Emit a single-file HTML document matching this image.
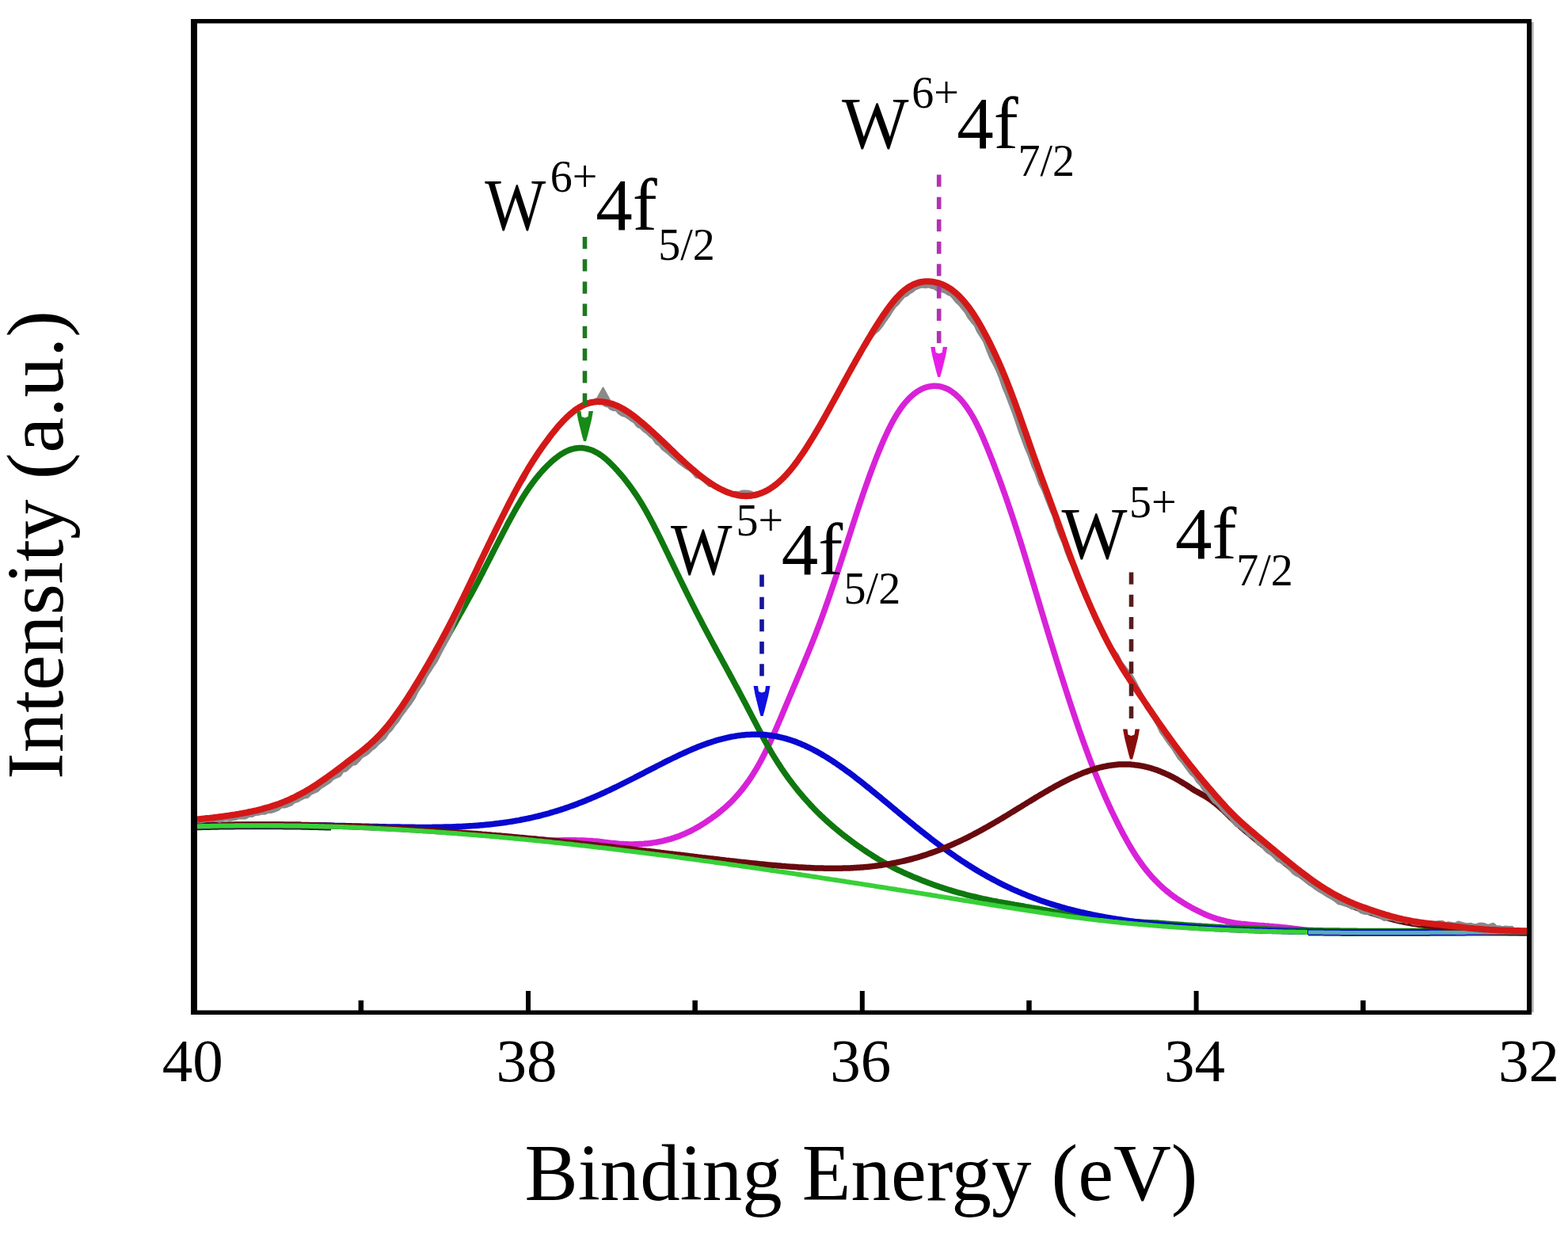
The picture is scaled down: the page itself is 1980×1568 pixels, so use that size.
<!DOCTYPE html>
<html><head><meta charset="utf-8"><title>W 4f XPS spectrum</title>
<style>html,body{margin:0;padding:0;background:#fff;overflow:hidden;width:1980px;height:1568px;} svg{display:block}</style></head>
<body>
<svg width="1980" height="1568" viewBox="0 0 1980 1568" font-family='"Liberation Serif", "Times New Roman", serif'>
<rect width="1980" height="1568" fill="#fff"/>
<g fill="none" stroke-linejoin="round" stroke-linecap="butt">
<path d="M249,1043.3 L251,1043.3 L253,1043.2 L255,1043.1 L257,1043.1 L259,1043.0 L261,1043.0 L263,1042.9 L265,1042.9 L267,1042.8 L269,1042.8 L271,1042.8 L273,1042.7 L275,1042.7 L277,1042.6 L279,1042.6 L281,1042.6 L283,1042.5 L285,1042.5 L287,1042.5 L289,1042.4 L291,1042.4 L293,1042.4 L295,1042.4 L297,1042.3 L299,1042.3 L301,1042.3 L303,1042.3 L305,1042.3 L307,1042.3 L309,1042.2 L311,1042.2 L313,1042.2 L315,1042.2 L317,1042.2 L319,1042.2 L321,1042.2 L323,1042.2 L325,1042.2 L327,1042.2 L329,1042.2 L331,1042.2 L333,1042.2 L335,1042.2 L337,1042.2 L339,1042.2 L341,1042.2 L343,1042.2 L345,1042.2 L347,1042.2 L349,1042.3 L351,1042.3 L353,1042.3 L355,1042.3 L357,1042.3 L359,1042.4 L361,1042.4 L363,1042.4 L365,1042.4 L367,1042.5 L369,1042.5 L371,1042.5 L373,1042.5 L375,1042.6 L377,1042.6 L379,1042.6 L381,1042.7 L383,1042.7 L385,1042.8 L387,1042.8 L389,1042.8 L391,1042.9 L393,1042.9 L395,1043.0 L397,1043.0 L399,1043.1 L401,1043.1 L403,1043.2 L405,1043.2 L407,1043.3 L409,1043.3 L411,1043.4 L413,1043.5 L415,1043.5 L417,1043.6 L418,1043.6" stroke="#0f3a0f" stroke-width="10"/>
<path d="M1652,1176.9 L1654,1176.9 L1656,1177.0 L1658,1177.0 L1660,1177.0 L1662,1177.1 L1664,1177.1 L1666,1177.1 L1668,1177.1 L1670,1177.1 L1672,1177.2 L1674,1177.2 L1676,1177.2 L1678,1177.2 L1680,1177.2 L1682,1177.3 L1684,1177.3 L1686,1177.3 L1688,1177.3 L1690,1177.3 L1692,1177.3 L1694,1177.4 L1696,1177.4 L1698,1177.4 L1700,1177.4 L1702,1177.4 L1704,1177.4 L1706,1177.4 L1708,1177.4 L1710,1177.4 L1712,1177.4 L1714,1177.5 L1716,1177.5 L1718,1177.5 L1720,1177.5 L1722,1177.5 L1724,1177.5 L1726,1177.5 L1728,1177.5 L1730,1177.5 L1732,1177.5 L1734,1177.5 L1736,1177.5 L1738,1177.5 L1740,1177.5 L1742,1177.5 L1744,1177.5 L1746,1177.5 L1748,1177.5 L1750,1177.5 L1752,1177.5 L1754,1177.5 L1756,1177.5 L1758,1177.5 L1760,1177.5 L1762,1177.5 L1764,1177.5 L1766,1177.5 L1768,1177.5 L1770,1177.5 L1772,1177.5 L1774,1177.5 L1776,1177.5 L1778,1177.4 L1780,1177.4 L1782,1177.4 L1784,1177.4 L1786,1177.4 L1788,1177.4 L1790,1177.4 L1792,1177.4 L1794,1177.4 L1796,1177.4 L1798,1177.4 L1800,1177.4 L1802,1177.4 L1804,1177.4 L1806,1177.3 L1808,1177.3 L1810,1177.3 L1812,1177.3 L1814,1177.3 L1816,1177.3 L1818,1177.3 L1820,1177.3 L1822,1177.3 L1824,1177.3 L1826,1177.3 L1828,1177.3 L1830,1177.2 L1832,1177.2 L1834,1177.2 L1836,1177.2 L1838,1177.2 L1840,1177.2 L1842,1177.2 L1844,1177.2 L1846,1177.2 L1848,1177.2 L1850,1177.2 L1852,1177.1 L1854,1177.1 L1856,1177.1 L1858,1177.1 L1860,1177.1 L1862,1177.1 L1864,1177.1 L1866,1177.1 L1868,1177.1 L1870,1177.1 L1872,1177.1 L1874,1177.1 L1876,1177.1 L1878,1177.1 L1880,1177.1 L1882,1177.0 L1884,1177.0 L1886,1177.0 L1888,1177.0 L1890,1177.0 L1892,1177.0 L1894,1177.0 L1896,1177.0 L1898,1177.0 L1900,1177.0 L1902,1177.0 L1904,1177.0 L1906,1177.0 L1908,1177.0 L1910,1177.0 L1912,1177.0 L1914,1177.0 L1916,1177.0 L1918,1177.0 L1920,1177.0 L1922,1177.0 L1924,1177.0 L1926,1177.0 L1928,1177.0" stroke="#0a4a48" stroke-width="9"/>
<path d="M249,1042.8 L251,1042.8 L253,1042.7 L255,1042.7 L257,1042.6 L259,1042.6 L261,1042.5 L263,1042.5 L265,1042.4 L267,1042.4 L269,1042.3 L271,1042.3 L273,1042.2 L275,1042.2 L277,1042.1 L279,1042.1 L281,1042.1 L283,1042.0 L285,1042.0 L287,1042.0 L289,1041.9 L291,1041.9 L293,1041.9 L295,1041.9 L297,1041.8 L299,1041.8 L301,1041.8 L303,1041.8 L305,1041.7 L307,1041.7 L309,1041.7 L311,1041.7 L313,1041.7 L315,1041.7 L317,1041.7 L319,1041.6 L321,1041.6 L323,1041.6 L325,1041.6 L327,1041.6 L329,1041.6 L331,1041.6 L333,1041.6 L335,1041.6 L337,1041.6 L339,1041.6 L341,1041.6 L343,1041.7 L345,1041.7 L347,1041.7 L349,1041.7 L351,1041.7 L353,1041.7 L355,1041.7 L357,1041.7 L359,1041.8 L361,1041.8 L363,1041.8 L365,1041.8 L367,1041.9 L369,1041.9 L371,1041.9 L373,1041.9 L375,1042.0 L377,1042.0 L379,1042.0 L381,1042.1 L383,1042.1 L385,1042.1 L387,1042.2 L389,1042.2 L391,1042.2 L393,1042.3 L395,1042.3 L397,1042.4 L399,1042.4 L401,1042.5 L403,1042.5 L405,1042.6 L407,1042.6 L409,1042.7 L411,1042.7 L413,1042.8 L415,1042.8 L417,1042.9 L419,1042.9 L421,1043.0 L423,1043.1 L425,1043.1 L427,1043.2 L429,1043.3 L431,1043.3 L433,1043.4 L435,1043.5 L437,1043.5 L439,1043.6 L441,1043.7 L443,1043.7 L445,1043.8 L447,1043.9 L449,1044.0 L451,1044.0 L453,1044.1 L455,1044.2 L457,1044.3 L459,1044.4 L461,1044.5 L463,1044.5 L465,1044.6 L467,1044.7 L469,1044.8 L471,1044.9 L473,1045.0 L475,1045.1 L477,1045.2 L479,1045.3 L481,1045.4 L483,1045.5 L485,1045.6 L487,1045.7 L489,1045.8 L491,1045.9 L493,1046.0 L495,1046.1 L497,1046.2 L499,1046.3 L501,1046.4 L503,1046.5 L505,1046.6 L507,1046.7 L509,1046.8 L511,1046.9 L513,1047.0 L515,1047.2 L517,1047.3 L519,1047.4 L521,1047.5 L523,1047.6 L525,1047.7 L527,1047.9 L529,1048.0 L531,1048.1 L533,1048.2 L535,1048.4 L537,1048.5 L539,1048.6 L541,1048.7 L543,1048.9 L545,1049.0 L547,1049.1 L549,1049.3 L551,1049.4 L553,1049.5 L555,1049.7 L557,1049.8 L559,1049.9 L561,1050.1 L563,1050.2 L565,1050.4 L567,1050.5 L569,1050.6 L571,1050.8 L573,1050.9 L575,1051.1 L577,1051.2 L579,1051.4 L581,1051.5 L583,1051.7 L585,1051.8 L587,1052.0 L589,1052.1 L591,1052.3 L593,1052.4 L595,1052.6 L597,1052.7 L599,1052.9 L601,1053.0 L603,1053.2 L605,1053.4 L607,1053.5 L609,1053.7 L611,1053.8 L613,1054.0 L615,1054.2 L617,1054.3 L619,1054.5 L621,1054.7 L623,1054.8 L625,1055.0 L627,1055.2 L629,1055.3 L631,1055.5 L633,1055.7 L635,1055.8 L637,1056.0 L639,1056.2 L641,1056.3 L643,1056.5 L645,1056.7 L647,1056.9 L649,1057.0 L651,1057.2 L653,1057.4 L655,1057.6 L657,1057.7 L659,1057.9 L661,1058.1 L663,1058.3 L665,1058.4 L667,1058.6 L669,1058.8 L671,1059.0 L673,1059.1 L675,1059.3 L677,1059.5 L679,1059.7 L681,1059.8 L683,1060.0 L685,1060.2 L687,1060.4 L689,1060.5 L691,1060.7 L693,1060.9 L695,1061.1 L697,1061.2 L699,1061.0 L701,1061.0 L703,1060.9 L705,1060.9 L707,1060.9 L709,1060.9 L711,1060.8 L713,1060.8 L715,1060.8 L717,1060.8 L719,1060.8 L721,1060.8 L723,1060.8 L725,1060.8 L727,1060.8 L729,1060.9 L731,1060.9 L733,1061.0 L735,1061.0 L737,1061.1 L739,1061.2 L741,1061.3 L743,1061.4 L745,1061.5 L747,1061.6 L749,1061.8 L751,1061.9 L753,1062.1 L755,1062.3 L757,1062.5 L759,1062.7 L761,1062.9 L763,1063.2 L765,1063.4 L767,1063.7 L769,1063.9 L771,1064.2 L773,1064.4 L775,1064.6 L777,1064.8 L779,1065.0 L781,1065.2 L783,1065.4 L785,1065.5 L787,1065.6 L789,1065.7 L791,1065.8 L793,1065.8 L795,1065.9 L797,1065.9 L799,1065.9 L801,1065.8 L803,1065.8 L805,1065.7 L807,1065.6 L809,1065.5 L811,1065.4 L813,1065.3 L815,1065.1 L817,1064.9 L819,1064.7 L821,1064.5 L823,1064.2 L825,1063.9 L827,1063.6 L829,1063.3 L831,1062.9 L833,1062.5 L835,1062.1 L837,1061.7 L839,1061.2 L841,1060.7 L843,1060.2 L845,1059.6 L847,1059.1 L849,1058.4 L851,1057.8 L853,1057.1 L855,1056.4 L857,1055.7 L859,1054.9 L861,1054.1 L863,1053.2 L865,1052.4 L867,1051.5 L869,1050.5 L871,1049.6 L873,1048.6 L875,1047.5 L877,1046.5 L879,1045.4 L881,1044.2 L883,1043.1 L885,1041.9 L887,1040.6 L889,1039.4 L891,1038.1 L893,1036.7 L895,1035.4 L897,1034.0 L899,1032.6 L901,1031.1 L903,1029.7 L905,1028.2 L907,1026.6 L909,1025.0 L911,1023.4 L913,1021.7 L915,1020.0 L917,1018.2 L919,1016.4 L921,1014.5 L923,1012.6 L925,1010.6 L927,1008.5 L929,1006.3 L931,1004.1 L933,1001.8 L935,999.4 L937,997.0 L939,994.4 L941,991.8 L943,989.1 L945,986.3 L947,983.3 L949,980.3 L951,977.2 L953,974.0 L955,970.7 L957,967.3 L959,963.7 L961,960.1 L963,956.3 L965,952.4 L967,948.4 L969,944.3 L971,940.1 L973,935.8 L975,931.4 L977,926.9 L979,922.3 L981,917.7 L983,913.1 L985,908.4 L987,903.7 L989,898.9 L991,894.2 L993,889.4 L995,884.7 L997,879.9 L999,875.2 L1001,870.4 L1003,865.7 L1005,861.0 L1007,856.2 L1009,851.5 L1011,846.8 L1013,842.0 L1015,837.2 L1017,832.4 L1019,827.6 L1021,822.8 L1023,817.9 L1025,812.9 L1027,807.9 L1029,802.8 L1031,797.7 L1033,792.4 L1035,787.1 L1037,781.7 L1039,776.3 L1041,770.7 L1043,765.1 L1045,759.4 L1047,753.6 L1049,747.8 L1051,741.9 L1053,736.0 L1055,730.0 L1057,724.0 L1059,717.9 L1061,711.8 L1063,705.7 L1065,699.5 L1067,693.4 L1069,687.2 L1071,681.0 L1073,674.8 L1075,668.6 L1077,662.4 L1079,656.3 L1081,650.2 L1083,644.1 L1085,638.0 L1087,632.1 L1089,626.2 L1091,620.4 L1093,614.6 L1095,609.0 L1097,603.4 L1099,597.9 L1101,592.5 L1103,587.2 L1105,582.0 L1107,576.9 L1109,571.9 L1111,567.0 L1113,562.2 L1115,557.6 L1117,553.1 L1119,548.7 L1121,544.4 L1123,540.3 L1125,536.4 L1127,532.6 L1129,529.0 L1131,525.5 L1133,522.3 L1135,519.2 L1137,516.2 L1139,513.4 L1141,510.8 L1143,508.4 L1145,506.1 L1147,503.9 L1149,501.9 L1151,500.0 L1153,498.3 L1155,496.7 L1157,495.2 L1159,493.9 L1161,492.7 L1163,491.6 L1165,490.7 L1167,489.8 L1169,489.1 L1171,488.5 L1173,488.1 L1175,487.7 L1177,487.5 L1179,487.3 L1181,487.3 L1183,487.4 L1185,487.6 L1187,487.9 L1189,488.4 L1191,489.0 L1193,489.7 L1195,490.5 L1197,491.4 L1199,492.5 L1201,493.8 L1203,495.2 L1205,496.7 L1207,498.4 L1209,500.2 L1211,502.1 L1213,504.3 L1215,506.5 L1217,509.0 L1219,511.6 L1221,514.3 L1223,517.3 L1225,520.4 L1227,523.7 L1229,527.2 L1231,530.8 L1233,534.7 L1235,538.7 L1237,542.9 L1239,547.2 L1241,551.8 L1243,556.4 L1245,561.2 L1247,566.1 L1249,571.1 L1251,576.1 L1253,581.2 L1255,586.4 L1257,591.7 L1259,597.0 L1261,602.4 L1263,607.9 L1265,613.4 L1267,619.0 L1269,624.6 L1271,630.3 L1273,636.1 L1275,642.0 L1277,647.9 L1279,653.9 L1281,660.0 L1283,666.2 L1285,672.4 L1287,678.7 L1289,685.0 L1291,691.4 L1293,697.9 L1295,704.4 L1297,711.0 L1299,717.5 L1301,724.2 L1303,730.8 L1305,737.4 L1307,744.1 L1309,750.8 L1311,757.4 L1313,764.1 L1315,770.8 L1317,777.4 L1319,784.1 L1321,790.7 L1323,797.3 L1325,803.9 L1327,810.4 L1329,816.9 L1331,823.4 L1333,829.9 L1335,836.3 L1337,842.7 L1339,849.1 L1341,855.4 L1343,861.7 L1345,867.9 L1347,874.1 L1349,880.3 L1351,886.4 L1353,892.5 L1355,898.5 L1357,904.5 L1359,910.4 L1361,916.3 L1363,922.1 L1365,927.8 L1367,933.5 L1369,939.0 L1371,944.6 L1373,950.0 L1375,955.4 L1377,960.7 L1379,965.9 L1381,971.0 L1383,976.1 L1385,981.0 L1387,985.9 L1389,990.7 L1391,995.5 L1393,1000.1 L1395,1004.7 L1397,1009.2 L1399,1013.6 L1401,1018.0 L1403,1022.3 L1405,1026.5 L1407,1030.6 L1409,1034.7 L1411,1038.7 L1413,1042.7 L1415,1046.6 L1417,1050.4 L1419,1054.2 L1421,1057.8 L1423,1061.5 L1425,1065.0 L1427,1068.5 L1429,1071.8 L1431,1075.1 L1433,1078.3 L1435,1081.3 L1437,1084.3 L1439,1087.2 L1441,1090.0 L1443,1092.8 L1445,1095.4 L1447,1098.0 L1449,1100.4 L1451,1102.8 L1453,1105.2 L1455,1107.4 L1457,1109.6 L1459,1111.7 L1461,1113.7 L1463,1115.7 L1465,1117.6 L1467,1119.5 L1469,1121.3 L1471,1123.0 L1473,1124.7 L1475,1126.3 L1477,1127.9 L1479,1129.4 L1481,1130.9 L1483,1132.4 L1485,1133.8 L1487,1135.2 L1489,1136.5 L1491,1137.8 L1493,1139.0 L1495,1140.3 L1497,1141.5 L1499,1142.7 L1501,1143.8 L1503,1144.9 L1505,1146.1 L1507,1147.1 L1509,1148.2 L1511,1149.2 L1513,1150.2 L1515,1151.2 L1517,1152.2 L1519,1153.1 L1521,1154.0 L1523,1154.9 L1525,1155.7 L1527,1156.5 L1529,1157.3 L1531,1158.0 L1533,1158.7 L1535,1159.4 L1537,1160.0 L1539,1160.6 L1541,1161.2 L1543,1161.7 L1545,1162.2 L1547,1162.7 L1549,1163.2 L1551,1163.6 L1553,1164.0 L1555,1164.4 L1557,1164.7 L1559,1165.1 L1561,1165.4 L1563,1165.7 L1565,1165.9 L1567,1166.2 L1569,1166.4 L1571,1166.6 L1573,1166.8 L1575,1167.0 L1577,1167.2 L1579,1167.4 L1581,1167.6 L1583,1167.7 L1585,1167.9 L1587,1168.1 L1589,1168.2 L1591,1168.4 L1593,1168.5 L1595,1168.6 L1597,1168.8 L1599,1168.9 L1601,1169.1 L1603,1169.3 L1605,1169.4 L1607,1169.6 L1609,1169.8 L1611,1169.9 L1613,1170.1 L1615,1170.3 L1617,1170.5 L1619,1170.7 L1621,1170.9 L1623,1171.1 L1625,1171.3 L1627,1171.6 L1629,1171.8 L1631,1172.0 L1633,1172.3 L1635,1172.5 L1637,1172.7 L1639,1173.0 L1641,1173.2 L1643,1173.5 L1645,1173.7 L1647,1174.0 L1649,1174.2 L1651,1174.5 L1653,1174.7 L1655,1175.0 L1657,1175.2 L1659,1175.5 L1661,1175.8 L1663,1176.0 L1665,1176.3 L1667,1176.5 L1669,1176.8 L1671,1176.8 L1673,1176.8 L1675,1176.9 L1677,1176.9 L1679,1177.0 L1681,1177.0 L1683,1177.0 L1685,1177.1 L1687,1177.1 L1689,1177.1 L1691,1177.1 L1693,1177.2 L1695,1177.2 L1697,1177.2 L1699,1177.2 L1701,1177.3 L1703,1177.3 L1705,1177.3 L1707,1177.3 L1709,1177.3 L1711,1177.3 L1713,1177.4 L1715,1177.4 L1717,1177.4 L1719,1177.4 L1721,1177.4 L1723,1177.4 L1725,1177.4 L1727,1177.4 L1729,1177.4 L1731,1177.4 L1733,1177.4 L1735,1177.5 L1737,1177.5 L1739,1177.5 L1741,1177.5 L1743,1177.5 L1745,1177.5 L1747,1177.5 L1749,1177.5 L1751,1177.5 L1753,1177.5 L1755,1177.5 L1757,1177.5 L1759,1177.5 L1761,1177.5 L1763,1177.5 L1765,1177.5 L1767,1177.5 L1769,1177.5 L1771,1177.5 L1773,1177.4 L1775,1177.4 L1777,1177.4 L1779,1177.4 L1781,1177.4 L1783,1177.4 L1785,1177.4 L1787,1177.4 L1789,1177.4 L1791,1177.4 L1793,1177.4 L1795,1177.4 L1797,1177.4 L1799,1177.4 L1801,1177.4 L1803,1177.4 L1805,1177.3 L1807,1177.3 L1809,1177.3 L1811,1177.3 L1813,1177.3 L1815,1177.3 L1817,1177.3 L1819,1177.3 L1821,1177.3 L1823,1177.3 L1825,1177.3 L1827,1177.3 L1829,1177.2 L1831,1177.2 L1833,1177.2 L1835,1177.2 L1837,1177.2 L1839,1177.2 L1841,1177.2 L1843,1177.2 L1845,1177.2 L1847,1177.2 L1849,1177.2 L1851,1177.2 L1853,1177.1 L1855,1177.1 L1857,1177.1 L1859,1177.1 L1861,1177.1 L1863,1177.1 L1865,1177.1 L1867,1177.1 L1869,1177.1 L1871,1177.1 L1873,1177.1 L1875,1177.1 L1877,1177.1 L1879,1177.1 L1881,1177.1 L1883,1177.0 L1885,1177.0 L1887,1177.0 L1889,1177.0 L1891,1177.0 L1893,1177.0 L1895,1177.0 L1897,1177.0 L1899,1177.0 L1901,1177.0 L1903,1177.0 L1905,1177.0 L1907,1177.0 L1909,1177.0 L1911,1177.0 L1913,1177.0 L1915,1177.0 L1917,1177.0 L1919,1177.0 L1921,1177.0 L1923,1177.0 L1925,1177.0 L1927,1177.0 L1928,1177.0" stroke="#d822d8" stroke-width="7.5"/>
<path d="M249,1035.8 L251,1035.7 L253,1035.6 L255,1035.4 L257,1035.3 L259,1035.1 L261,1034.9 L263,1034.8 L265,1034.6 L267,1034.4 L269,1034.2 L271,1034.0 L273,1033.8 L275,1033.5 L277,1033.3 L279,1033.0 L281,1032.8 L283,1032.5 L285,1032.3 L287,1032.0 L289,1031.7 L291,1031.4 L293,1031.1 L295,1030.8 L297,1030.5 L299,1030.2 L301,1029.9 L303,1029.5 L305,1029.2 L307,1028.8 L309,1028.4 L311,1028.1 L313,1027.7 L315,1027.3 L317,1026.8 L319,1026.4 L321,1026.0 L323,1025.5 L325,1025.1 L327,1024.6 L329,1024.1 L331,1023.6 L333,1023.0 L335,1022.5 L337,1021.9 L339,1021.3 L341,1020.7 L343,1020.1 L345,1019.5 L347,1018.8 L349,1018.1 L351,1017.4 L353,1016.7 L355,1016.0 L357,1015.2 L359,1014.4 L361,1013.6 L363,1012.7 L365,1011.9 L367,1011.0 L369,1010.1 L371,1009.1 L373,1008.2 L375,1007.2 L377,1006.2 L379,1005.1 L381,1004.1 L383,1003.0 L385,1001.9 L387,1000.8 L389,999.6 L391,998.4 L393,997.2 L395,996.0 L397,994.8 L399,993.5 L401,992.3 L403,991.0 L405,989.7 L407,988.4 L409,987.1 L411,985.7 L413,984.4 L415,983.0 L417,981.6 L419,980.2 L421,978.8 L423,977.4 L425,976.0 L427,974.6 L429,973.2 L431,971.7 L433,970.3 L435,968.8 L437,967.4 L439,965.9 L441,964.4 L443,962.9 L445,961.4 L447,959.9 L449,958.3 L451,956.8 L453,955.2 L455,953.6 L457,952.0 L459,950.3 L461,948.7 L463,947.0 L465,945.2 L467,943.4 L469,941.6 L471,939.8 L473,937.9 L475,935.9 L477,933.9 L479,931.9 L481,929.8 L483,927.6 L485,925.4 L487,923.2 L489,920.9 L491,918.5 L493,916.1 L495,913.6 L497,911.1 L499,908.6 L501,906.0 L503,903.3 L505,900.6 L507,897.8 L509,895.0 L511,892.2 L513,889.3 L515,886.4 L517,883.4 L519,880.4 L521,877.4 L523,874.3 L525,871.2 L527,868.0 L529,864.9 L531,861.7 L533,858.4 L535,855.2 L537,851.9 L539,848.6 L541,845.3 L543,841.9 L545,838.6 L547,835.2 L549,831.8 L551,828.3 L553,824.9 L555,821.4 L557,817.9 L559,814.4 L561,810.9 L563,807.4 L565,803.9 L567,800.3 L569,796.8 L571,793.2 L573,789.6 L575,786.1 L577,782.5 L579,778.9 L581,775.3 L583,771.8 L585,768.2 L587,764.6 L589,761.0 L591,757.3 L593,753.7 L595,750.1 L597,746.4 L599,742.7 L601,739.0 L603,735.2 L605,731.4 L607,727.6 L609,723.7 L611,719.8 L613,715.9 L615,712.0 L617,708.1 L619,704.2 L621,700.3 L623,696.3 L625,692.4 L627,688.5 L629,684.6 L631,680.7 L633,676.9 L635,673.0 L637,669.2 L639,665.4 L641,661.6 L643,657.9 L645,654.2 L647,650.6 L649,647.0 L651,643.4 L653,639.9 L655,636.5 L657,633.1 L659,629.8 L661,626.6 L663,623.4 L665,620.4 L667,617.4 L669,614.5 L671,611.7 L673,609.0 L675,606.4 L677,603.8 L679,601.3 L681,598.9 L683,596.6 L685,594.3 L687,592.2 L689,590.1 L691,588.0 L693,586.1 L695,584.2 L697,582.3 L699,580.6 L701,579.0 L703,577.4 L705,575.9 L707,574.5 L709,573.2 L711,572.0 L713,570.9 L715,569.8 L717,568.9 L719,568.1 L721,567.4 L723,566.8 L725,566.3 L727,566.0 L729,565.7 L731,565.5 L733,565.5 L735,565.6 L737,565.8 L739,566.1 L741,566.5 L743,567.0 L745,567.6 L747,568.3 L749,569.1 L751,570.1 L753,571.1 L755,572.2 L757,573.5 L759,574.8 L761,576.3 L763,577.9 L765,579.5 L767,581.3 L769,583.1 L771,585.1 L773,587.1 L775,589.1 L777,591.3 L779,593.4 L781,595.7 L783,598.0 L785,600.3 L787,602.7 L789,605.2 L791,607.8 L793,610.4 L795,613.1 L797,615.8 L799,618.6 L801,621.5 L803,624.4 L805,627.4 L807,630.5 L809,633.7 L811,637.0 L813,640.4 L815,643.8 L817,647.4 L819,651.0 L821,654.7 L823,658.5 L825,662.3 L827,666.2 L829,670.2 L831,674.1 L833,678.2 L835,682.2 L837,686.3 L839,690.4 L841,694.6 L843,698.7 L845,702.9 L847,707.0 L849,711.1 L851,715.3 L853,719.4 L855,723.6 L857,727.7 L859,731.8 L861,735.9 L863,740.0 L865,744.0 L867,748.1 L869,752.1 L871,756.1 L873,760.1 L875,764.1 L877,768.0 L879,772.0 L881,775.9 L883,779.8 L885,783.6 L887,787.5 L889,791.3 L891,795.0 L893,798.8 L895,802.6 L897,806.3 L899,810.0 L901,813.7 L903,817.4 L905,821.1 L907,824.7 L909,828.4 L911,832.0 L913,835.7 L915,839.4 L917,843.0 L919,846.7 L921,850.4 L923,854.1 L925,857.8 L927,861.5 L929,865.2 L931,868.9 L933,872.6 L935,876.4 L937,880.2 L939,884.0 L941,887.8 L943,891.6 L945,895.4 L947,899.2 L949,903.1 L951,906.9 L953,910.8 L955,914.6 L957,918.5 L959,922.3 L961,926.1 L963,929.9 L965,933.6 L967,937.3 L969,940.9 L971,944.4 L973,947.9 L975,951.3 L977,954.6 L979,957.8 L981,961.0 L983,964.2 L985,967.2 L987,970.3 L989,973.2 L991,976.1 L993,978.9 L995,981.7 L997,984.4 L999,987.1 L1001,989.7 L1003,992.3 L1005,994.8 L1007,997.3 L1009,999.8 L1011,1002.2 L1013,1004.5 L1015,1006.9 L1017,1009.1 L1019,1011.4 L1021,1013.6 L1023,1015.8 L1025,1017.9 L1027,1020.0 L1029,1022.1 L1031,1024.1 L1033,1026.1 L1035,1028.0 L1037,1030.0 L1039,1031.8 L1041,1033.7 L1043,1035.6 L1045,1037.4 L1047,1039.2 L1049,1040.9 L1051,1042.6 L1053,1044.4 L1055,1046.0 L1057,1047.7 L1059,1049.4 L1061,1051.0 L1063,1052.6 L1065,1054.2 L1067,1055.7 L1069,1057.3 L1071,1058.8 L1073,1060.3 L1075,1061.8 L1077,1063.3 L1079,1064.7 L1081,1066.2 L1083,1067.6 L1085,1069.0 L1087,1070.4 L1089,1071.8 L1091,1073.2 L1093,1074.5 L1095,1075.8 L1097,1077.1 L1099,1078.4 L1101,1079.7 L1103,1081.0 L1105,1082.2 L1107,1083.5 L1109,1084.7 L1111,1085.9 L1113,1087.0 L1115,1088.2 L1117,1089.3 L1119,1090.5 L1121,1091.6 L1123,1092.6 L1125,1093.7 L1127,1094.8 L1129,1095.8 L1131,1096.8 L1133,1097.8 L1135,1098.8 L1137,1099.7 L1139,1100.7 L1141,1101.6 L1143,1102.5 L1145,1103.4 L1147,1104.3 L1149,1105.1 L1151,1106.0 L1153,1106.9 L1155,1107.7 L1157,1108.5 L1159,1109.3 L1161,1110.1 L1163,1110.9 L1165,1111.7 L1167,1112.5 L1169,1113.3 L1171,1114.0 L1173,1114.8 L1175,1115.5 L1177,1116.3 L1179,1117.0 L1181,1117.7 L1183,1118.4 L1185,1119.1 L1187,1119.8 L1189,1120.4 L1191,1121.1 L1193,1121.7 L1195,1122.4 L1197,1123.0 L1199,1123.6 L1201,1124.2 L1203,1124.8 L1205,1125.4 L1207,1126.0 L1209,1126.6 L1211,1127.1 L1213,1127.7 L1215,1128.2 L1217,1128.7 L1219,1129.3 L1221,1129.8 L1223,1130.3 L1225,1130.8 L1227,1131.3 L1229,1131.8 L1231,1132.2 L1233,1132.7 L1235,1133.2 L1237,1133.6 L1239,1134.1 L1241,1134.6 L1243,1135.0 L1245,1135.4 L1247,1135.8 L1249,1136.3 L1251,1136.7 L1253,1137.1 L1255,1137.5 L1257,1137.8 L1259,1138.2 L1261,1138.6 L1263,1138.9 L1265,1139.3 L1267,1139.6 L1269,1140.0 L1271,1140.3 L1273,1140.7 L1275,1141.0 L1277,1141.4 L1279,1141.7 L1281,1142.1 L1283,1142.4 L1285,1142.8 L1287,1143.1 L1289,1143.5 L1291,1143.8 L1293,1144.2 L1295,1144.6 L1297,1144.9 L1299,1145.3 L1301,1145.6 L1303,1146.0 L1305,1146.3 L1307,1146.7 L1309,1147.0 L1311,1147.3 L1313,1147.7 L1315,1148.0 L1317,1148.4 L1319,1148.7 L1321,1149.1 L1323,1149.5 L1325,1149.8 L1327,1150.2 L1329,1150.5 L1331,1150.9 L1333,1151.3 L1335,1151.6 L1337,1152.0 L1339,1152.4 L1341,1152.8 L1343,1153.1 L1345,1153.5 L1347,1153.9 L1349,1154.2 L1351,1154.6 L1353,1154.9 L1355,1155.3 L1357,1155.6 L1359,1156.0 L1361,1156.3 L1363,1156.6 L1365,1156.9 L1367,1157.2 L1369,1157.5 L1371,1157.8 L1373,1158.1 L1375,1158.4 L1377,1158.7 L1379,1158.9 L1381,1159.2 L1383,1159.4 L1385,1159.7 L1387,1159.9 L1389,1160.2 L1391,1160.4 L1393,1160.6 L1395,1160.8 L1397,1161.0 L1399,1161.2 L1401,1161.4 L1403,1161.6 L1405,1161.8 L1407,1162.0 L1409,1162.2 L1411,1162.3 L1413,1162.5 L1415,1162.6 L1417,1162.8 L1419,1162.9 L1421,1163.1 L1423,1163.2 L1425,1163.3 L1427,1163.5 L1429,1163.6 L1431,1163.7 L1433,1163.8 L1435,1163.9 L1437,1164.0 L1439,1164.1 L1441,1164.2 L1443,1164.3 L1445,1164.4 L1447,1164.5 L1449,1164.6 L1451,1164.7 L1453,1164.8 L1455,1164.8 L1457,1164.9 L1459,1165.0 L1461,1165.0 L1463,1165.2 L1465,1165.4 L1467,1165.6 L1469,1165.7 L1471,1165.9 L1473,1166.1 L1475,1166.2 L1477,1166.4 L1479,1166.6 L1481,1166.7 L1483,1166.9 L1485,1167.0 L1487,1167.2 L1489,1167.3 L1491,1167.5 L1493,1167.6 L1495,1167.8 L1497,1167.9 L1499,1168.1 L1501,1168.2 L1503,1168.3 L1505,1168.5 L1507,1168.6 L1509,1168.7 L1511,1168.9 L1513,1169.0 L1515,1169.1 L1517,1169.2 L1519,1169.4 L1521,1169.5 L1523,1169.6 L1525,1169.7 L1527,1169.9 L1529,1170.0 L1531,1170.1 L1533,1170.2 L1535,1170.3 L1537,1170.4 L1539,1170.5 L1541,1170.6 L1543,1170.7 L1545,1170.9 L1547,1171.0 L1549,1171.1 L1551,1171.2 L1553,1171.3 L1555,1171.3 L1557,1171.4 L1559,1171.5 L1561,1171.6 L1563,1171.7 L1565,1171.8 L1567,1171.9 L1569,1172.0 L1571,1172.1 L1573,1172.2 L1575,1172.2 L1577,1172.3 L1579,1172.4 L1581,1172.5 L1583,1172.6 L1585,1172.6 L1587,1172.7 L1589,1172.8 L1591,1172.9 L1593,1172.9 L1595,1173.0 L1597,1173.1 L1599,1173.1 L1601,1173.2 L1603,1173.3 L1605,1173.3 L1607,1173.4 L1609,1173.5 L1611,1173.5 L1613,1173.6 L1615,1173.6 L1617,1173.7 L1619,1173.8 L1621,1173.8 L1623,1173.9 L1625,1173.9 L1627,1174.0 L1629,1174.0 L1631,1174.1 L1633,1174.1 L1635,1174.2 L1637,1174.2 L1639,1174.3 L1641,1174.3 L1643,1174.3 L1645,1174.4 L1647,1174.4 L1649,1174.5 L1651,1174.5 L1653,1174.6 L1655,1174.6 L1657,1174.6 L1659,1174.7 L1661,1174.7 L1663,1174.7 L1665,1174.8 L1667,1174.8 L1669,1174.8 L1671,1174.9 L1673,1174.9 L1675,1174.9 L1677,1175.0 L1679,1175.0 L1681,1175.0 L1683,1175.0 L1685,1175.1 L1687,1175.1 L1689,1175.1 L1691,1175.1 L1693,1175.2 L1695,1175.2 L1697,1175.2 L1699,1175.2 L1701,1175.2 L1703,1175.3 L1705,1175.3 L1707,1175.3 L1709,1175.3 L1711,1175.3 L1713,1175.3 L1715,1175.4 L1717,1175.4 L1719,1175.4 L1721,1175.4 L1723,1175.4 L1725,1175.4 L1727,1175.4 L1729,1175.5 L1731,1175.5 L1733,1175.5 L1735,1175.5 L1737,1175.5 L1739,1175.5 L1741,1175.5 L1743,1175.5 L1745,1175.5 L1747,1175.5 L1749,1175.5 L1751,1175.5 L1753,1175.5 L1755,1175.6 L1757,1175.6 L1759,1175.6 L1761,1175.6 L1763,1175.6 L1765,1175.6 L1767,1175.6 L1769,1175.6 L1771,1175.6 L1773,1175.6 L1775,1175.6 L1777,1175.6 L1779,1175.6 L1781,1175.6 L1783,1175.6 L1785,1175.6 L1787,1175.6 L1789,1175.6 L1791,1175.6 L1793,1175.6 L1795,1175.6 L1797,1175.6 L1799,1175.6 L1801,1175.6 L1803,1175.6 L1805,1175.6 L1807,1175.6 L1809,1175.6 L1811,1175.6 L1813,1175.6 L1815,1175.6 L1817,1175.6 L1819,1175.6 L1821,1175.6 L1823,1175.6 L1825,1175.6 L1827,1175.6 L1829,1175.6 L1831,1175.6 L1833,1175.6 L1835,1175.5 L1837,1175.5 L1839,1175.5 L1841,1175.5 L1843,1175.5 L1845,1175.5 L1847,1175.5 L1849,1175.5 L1851,1175.5 L1853,1175.5 L1855,1175.5 L1857,1175.5 L1859,1175.5 L1861,1175.5 L1863,1175.5 L1865,1175.5 L1867,1175.5 L1869,1175.5 L1871,1175.5 L1873,1175.5 L1875,1175.5 L1877,1175.5 L1879,1175.5 L1881,1175.5 L1883,1175.5 L1885,1175.5 L1887,1175.5 L1889,1175.5 L1891,1175.5 L1893,1175.5 L1895,1175.5 L1897,1175.5 L1899,1175.5 L1901,1175.5 L1903,1175.5 L1905,1175.5 L1907,1175.5 L1909,1175.5 L1911,1175.5 L1913,1175.5 L1915,1175.6 L1917,1175.6 L1919,1175.6 L1921,1175.6 L1923,1175.6 L1925,1175.6 L1927,1175.6 L1928,1175.6" stroke="#0f780f" stroke-width="7.5"/>
<path d="M249,1042.7 L251,1042.6 L253,1042.6 L255,1042.5 L257,1042.5 L259,1042.4 L261,1042.4 L263,1042.3 L265,1042.3 L267,1042.2 L269,1042.2 L271,1042.1 L273,1042.1 L275,1042.0 L277,1042.0 L279,1041.9 L281,1041.9 L283,1041.9 L285,1041.8 L287,1041.8 L289,1041.8 L291,1041.7 L293,1041.7 L295,1041.7 L297,1041.6 L299,1041.6 L301,1041.6 L303,1041.6 L305,1041.5 L307,1041.5 L309,1041.5 L311,1041.5 L313,1041.5 L315,1041.5 L317,1041.4 L319,1041.4 L321,1041.4 L323,1041.4 L325,1041.4 L327,1041.4 L329,1041.4 L331,1041.4 L333,1041.4 L335,1041.4 L337,1041.4 L339,1041.4 L341,1041.4 L343,1041.4 L345,1041.4 L347,1041.4 L349,1041.4 L351,1041.4 L353,1041.4 L355,1041.4 L357,1041.4 L359,1041.5 L361,1041.5 L363,1041.5 L365,1041.5 L367,1041.5 L369,1041.5 L371,1041.6 L373,1041.6 L375,1041.6 L377,1041.6 L379,1041.6 L381,1041.7 L383,1041.7 L385,1041.7 L387,1041.7 L389,1041.8 L391,1041.8 L393,1041.8 L395,1041.9 L397,1041.9 L399,1041.9 L401,1042.0 L403,1042.0 L405,1042.0 L407,1042.1 L409,1042.1 L411,1042.1 L413,1042.2 L415,1042.2 L417,1042.3 L419,1042.3 L421,1042.3 L423,1042.4 L425,1042.4 L427,1042.5 L429,1042.5 L431,1042.6 L433,1042.6 L435,1042.6 L437,1042.7 L439,1042.7 L441,1042.8 L443,1042.8 L445,1042.9 L447,1042.9 L449,1043.0 L451,1043.0 L453,1043.1 L455,1043.1 L457,1043.2 L459,1043.2 L461,1043.2 L463,1043.3 L465,1043.3 L467,1043.4 L469,1043.4 L471,1043.5 L473,1043.5 L475,1043.6 L477,1043.6 L479,1043.7 L481,1043.7 L483,1043.7 L485,1043.8 L487,1043.8 L489,1043.9 L491,1043.9 L493,1043.9 L495,1044.0 L497,1044.0 L499,1044.0 L501,1044.1 L503,1044.1 L505,1044.1 L507,1044.2 L509,1044.2 L511,1044.2 L513,1044.3 L515,1044.3 L517,1044.3 L519,1044.3 L521,1044.3 L523,1044.3 L525,1044.4 L527,1044.4 L529,1044.4 L531,1044.4 L533,1044.4 L535,1044.4 L537,1044.4 L539,1044.4 L541,1044.4 L543,1044.4 L545,1044.4 L547,1044.3 L549,1044.3 L551,1044.3 L553,1044.3 L555,1044.2 L557,1044.2 L559,1044.2 L561,1044.1 L563,1044.1 L565,1044.0 L567,1044.0 L569,1043.9 L571,1043.9 L573,1043.8 L575,1043.7 L577,1043.6 L579,1043.6 L581,1043.5 L583,1043.4 L585,1043.3 L587,1043.2 L589,1043.1 L591,1043.0 L593,1042.8 L595,1042.7 L597,1042.6 L599,1042.4 L601,1042.3 L603,1042.2 L605,1042.0 L607,1041.8 L609,1041.7 L611,1041.5 L613,1041.3 L615,1041.1 L617,1040.9 L619,1040.7 L621,1040.5 L623,1040.3 L625,1040.0 L627,1039.8 L629,1039.6 L631,1039.3 L633,1039.0 L635,1038.8 L637,1038.5 L639,1038.2 L641,1037.9 L643,1037.6 L645,1037.3 L647,1037.0 L649,1036.6 L651,1036.3 L653,1035.9 L655,1035.6 L657,1035.2 L659,1034.8 L661,1034.4 L663,1034.0 L665,1033.6 L667,1033.2 L669,1032.8 L671,1032.3 L673,1031.9 L675,1031.4 L677,1030.9 L679,1030.5 L681,1030.0 L683,1029.5 L685,1028.9 L687,1028.4 L689,1027.9 L691,1027.3 L693,1026.8 L695,1026.2 L697,1025.6 L699,1025.0 L701,1024.4 L703,1023.8 L705,1023.2 L707,1022.6 L709,1021.9 L711,1021.3 L713,1020.6 L715,1019.9 L717,1019.2 L719,1018.5 L721,1017.8 L723,1017.1 L725,1016.4 L727,1015.6 L729,1014.9 L731,1014.1 L733,1013.3 L735,1012.6 L737,1011.8 L739,1011.0 L741,1010.1 L743,1009.3 L745,1008.5 L747,1007.6 L749,1006.8 L751,1005.9 L753,1005.1 L755,1004.2 L757,1003.3 L759,1002.4 L761,1001.5 L763,1000.6 L765,999.6 L767,998.7 L769,997.8 L771,996.8 L773,995.9 L775,994.9 L777,994.0 L779,993.0 L781,992.0 L783,991.0 L785,990.0 L787,989.0 L789,988.0 L791,987.0 L793,986.0 L795,985.0 L797,984.0 L799,983.0 L801,982.0 L803,980.9 L805,979.9 L807,978.9 L809,977.8 L811,976.8 L813,975.8 L815,974.7 L817,973.7 L819,972.7 L821,971.6 L823,970.6 L825,969.6 L827,968.6 L829,967.5 L831,966.5 L833,965.5 L835,964.5 L837,963.5 L839,962.4 L841,961.4 L843,960.4 L845,959.5 L847,958.5 L849,957.5 L851,956.5 L853,955.6 L855,954.6 L857,953.7 L859,952.7 L861,951.8 L863,950.9 L865,950.0 L867,949.1 L869,948.2 L871,947.3 L873,946.4 L875,945.6 L877,944.8 L879,943.9 L881,943.1 L883,942.3 L885,941.6 L887,940.8 L889,940.1 L891,939.3 L893,938.6 L895,937.9 L897,937.3 L899,936.6 L901,936.0 L903,935.3 L905,934.7 L907,934.2 L909,933.6 L911,933.1 L913,932.6 L915,932.1 L917,931.6 L919,931.1 L921,930.7 L923,930.3 L925,929.9 L927,929.6 L929,929.2 L931,928.9 L933,928.6 L935,928.4 L937,928.1 L939,927.9 L941,927.7 L943,927.6 L945,927.5 L947,927.4 L949,927.3 L951,927.2 L953,927.2 L955,927.2 L957,927.2 L959,927.3 L961,927.4 L963,927.5 L965,927.6 L967,927.8 L969,928.0 L971,928.2 L973,928.5 L975,928.8 L977,929.1 L979,929.4 L981,929.8 L983,930.2 L985,930.7 L987,931.1 L989,931.6 L991,932.1 L993,932.7 L995,933.3 L997,933.9 L999,934.5 L1001,935.2 L1003,935.9 L1005,936.6 L1007,937.4 L1009,938.2 L1011,939.0 L1013,939.9 L1015,940.7 L1017,941.6 L1019,942.6 L1021,943.5 L1023,944.5 L1025,945.5 L1027,946.5 L1029,947.6 L1031,948.6 L1033,949.7 L1035,950.9 L1037,952.0 L1039,953.2 L1041,954.4 L1043,955.6 L1045,956.8 L1047,958.1 L1049,959.4 L1051,960.7 L1053,962.0 L1055,963.3 L1057,964.7 L1059,966.1 L1061,967.4 L1063,968.9 L1065,970.3 L1067,971.7 L1069,973.2 L1071,974.6 L1073,976.1 L1075,977.6 L1077,979.1 L1079,980.6 L1081,982.2 L1083,983.7 L1085,985.3 L1087,986.8 L1089,988.4 L1091,990.0 L1093,991.6 L1095,993.2 L1097,994.8 L1099,996.4 L1101,998.1 L1103,999.7 L1105,1001.3 L1107,1003.0 L1109,1004.6 L1111,1006.2 L1113,1007.9 L1115,1009.6 L1117,1011.2 L1119,1012.9 L1121,1014.5 L1123,1016.2 L1125,1017.9 L1127,1019.5 L1129,1021.2 L1131,1022.8 L1133,1024.5 L1135,1026.2 L1137,1027.8 L1139,1029.5 L1141,1031.1 L1143,1032.8 L1145,1034.4 L1147,1036.0 L1149,1037.7 L1151,1039.3 L1153,1040.9 L1155,1042.6 L1157,1044.2 L1159,1045.8 L1161,1047.4 L1163,1049.0 L1165,1050.6 L1167,1052.1 L1169,1053.7 L1171,1055.3 L1173,1056.8 L1175,1058.4 L1177,1059.9 L1179,1061.4 L1181,1062.9 L1183,1064.4 L1185,1065.9 L1187,1067.4 L1189,1068.9 L1191,1070.4 L1193,1071.8 L1195,1073.3 L1197,1074.7 L1199,1076.1 L1201,1077.5 L1203,1078.9 L1205,1080.3 L1207,1081.7 L1209,1083.1 L1211,1084.4 L1213,1085.8 L1215,1087.1 L1217,1088.4 L1219,1089.7 L1221,1091.0 L1223,1092.3 L1225,1093.5 L1227,1094.8 L1229,1096.0 L1231,1097.3 L1233,1098.5 L1235,1099.7 L1237,1100.9 L1239,1102.0 L1241,1103.2 L1243,1104.3 L1245,1105.5 L1247,1106.6 L1249,1107.7 L1251,1108.8 L1253,1109.9 L1255,1110.9 L1257,1112.0 L1259,1113.0 L1261,1114.1 L1263,1115.1 L1265,1116.1 L1267,1117.1 L1269,1118.1 L1271,1119.0 L1273,1120.0 L1275,1120.9 L1277,1121.8 L1279,1122.8 L1281,1123.7 L1283,1124.5 L1285,1125.4 L1287,1126.3 L1289,1127.1 L1291,1128.0 L1293,1128.8 L1295,1129.6 L1297,1130.4 L1299,1131.2 L1301,1132.0 L1303,1132.8 L1305,1133.5 L1307,1134.3 L1309,1135.0 L1311,1135.7 L1313,1136.5 L1315,1137.2 L1317,1137.9 L1319,1138.5 L1321,1139.2 L1323,1139.9 L1325,1140.5 L1327,1141.2 L1329,1141.8 L1331,1142.4 L1333,1143.0 L1335,1143.6 L1337,1144.2 L1339,1144.8 L1341,1145.4 L1343,1145.9 L1345,1146.5 L1347,1147.1 L1349,1147.6 L1351,1148.1 L1353,1148.6 L1355,1149.1 L1357,1149.7 L1359,1150.1 L1361,1150.6 L1363,1151.1 L1365,1151.6 L1367,1152.0 L1369,1152.5 L1371,1152.9 L1373,1153.4 L1375,1153.8 L1377,1154.2 L1379,1154.7 L1381,1155.1 L1383,1155.5 L1385,1155.9 L1387,1156.3 L1389,1156.6 L1391,1157.0 L1393,1157.4 L1395,1157.8 L1397,1158.1 L1399,1158.5 L1401,1158.8 L1403,1159.1 L1405,1159.5 L1407,1159.8 L1409,1160.1 L1411,1160.4 L1413,1160.7 L1415,1161.0 L1417,1161.3 L1419,1161.6 L1421,1161.9 L1423,1162.2 L1425,1162.5 L1427,1162.8 L1429,1163.0 L1431,1163.3 L1433,1163.6 L1435,1163.8 L1437,1164.1 L1439,1164.3 L1441,1164.6 L1443,1164.8 L1445,1165.0 L1447,1165.3 L1449,1165.5 L1451,1165.7 L1453,1165.9 L1455,1166.2 L1457,1166.4 L1459,1166.6 L1461,1166.8 L1463,1167.0 L1465,1167.2 L1467,1167.4 L1469,1167.6 L1471,1167.8 L1473,1168.0 L1475,1168.1 L1477,1168.3 L1479,1168.5 L1481,1168.7 L1483,1168.8 L1485,1169.0 L1487,1169.2 L1489,1169.3 L1491,1169.5 L1493,1169.7 L1495,1169.8 L1497,1170.0 L1499,1170.1 L1501,1170.3 L1503,1170.4 L1505,1170.6 L1507,1170.7 L1509,1170.8 L1511,1171.0 L1513,1171.1 L1515,1171.2 L1517,1171.4 L1519,1171.5 L1521,1171.6 L1523,1171.7 L1525,1171.9 L1527,1172.0 L1529,1172.1 L1531,1172.2 L1533,1172.3 L1535,1172.4 L1537,1172.5 L1539,1172.6 L1541,1172.8 L1543,1172.9 L1545,1173.0 L1547,1173.1 L1549,1173.2 L1551,1173.3 L1553,1173.4 L1555,1173.4 L1557,1173.5 L1559,1173.6 L1561,1173.7 L1563,1173.8 L1565,1173.9 L1567,1174.0 L1569,1174.1 L1571,1174.1 L1573,1174.2 L1575,1174.3 L1577,1174.4 L1579,1174.4 L1581,1174.5 L1583,1174.6 L1585,1174.7 L1587,1174.7 L1589,1174.8 L1591,1174.9 L1593,1174.9 L1595,1175.0 L1597,1175.1 L1599,1175.1 L1601,1175.2 L1603,1175.2 L1605,1175.3 L1607,1175.4 L1609,1175.4 L1611,1175.5 L1613,1175.5 L1615,1175.6 L1617,1175.6 L1619,1175.7 L1621,1175.7 L1623,1175.8 L1625,1175.8 L1627,1175.9 L1629,1175.9 L1631,1175.9 L1633,1176.0 L1635,1176.0 L1637,1176.1 L1639,1176.1 L1641,1176.2 L1643,1176.2 L1645,1176.2 L1647,1176.3 L1649,1176.3 L1651,1176.3 L1653,1176.4 L1655,1176.4 L1657,1176.4 L1659,1176.5 L1661,1176.5 L1663,1176.5 L1665,1176.5 L1667,1176.6 L1669,1176.6 L1671,1176.6 L1673,1176.6 L1675,1176.7 L1677,1176.7 L1679,1176.7 L1681,1176.7 L1683,1176.7 L1685,1176.8 L1687,1176.8 L1689,1176.8 L1691,1176.8 L1693,1176.8 L1695,1176.9 L1697,1176.9 L1699,1176.9 L1701,1176.9 L1703,1176.9 L1705,1176.9 L1707,1176.9 L1709,1176.9 L1711,1177.0 L1713,1177.0 L1715,1177.0 L1717,1177.0 L1719,1177.0 L1721,1177.0 L1723,1177.0 L1725,1177.0 L1727,1177.0 L1729,1177.0 L1731,1177.0 L1733,1177.0 L1735,1177.0 L1737,1177.0 L1739,1177.0 L1741,1177.1 L1743,1177.1 L1745,1177.1 L1747,1177.1 L1749,1177.1 L1751,1177.1 L1753,1177.1 L1755,1177.1 L1757,1177.1 L1759,1177.1 L1761,1177.1 L1763,1177.1 L1765,1177.1 L1767,1177.1 L1769,1177.1 L1771,1177.0 L1773,1177.0 L1775,1177.0 L1777,1177.0 L1779,1177.0 L1781,1177.0 L1783,1177.0 L1785,1177.0 L1787,1177.0 L1789,1177.0 L1791,1177.0 L1793,1177.0 L1795,1177.0 L1797,1177.0 L1799,1177.0 L1801,1177.0 L1803,1177.0 L1805,1177.0 L1807,1177.0 L1809,1177.0 L1811,1176.9 L1813,1176.9 L1815,1176.9 L1817,1176.9 L1819,1176.9 L1821,1176.9 L1823,1176.9 L1825,1176.9 L1827,1176.9 L1829,1176.9 L1831,1176.9 L1833,1176.9 L1835,1176.9 L1837,1176.9 L1839,1176.8 L1841,1176.8 L1843,1176.8 L1845,1176.8 L1847,1176.8 L1849,1176.8 L1851,1176.8 L1853,1176.8 L1855,1176.8 L1857,1176.8 L1859,1176.8 L1861,1176.8 L1863,1176.8 L1865,1176.8 L1867,1176.8 L1869,1176.8 L1871,1176.7 L1873,1176.7 L1875,1176.7 L1877,1176.7 L1879,1176.7 L1881,1176.7 L1883,1176.7 L1885,1176.7 L1887,1176.7 L1889,1176.7 L1891,1176.7 L1893,1176.7 L1895,1176.7 L1897,1176.7 L1899,1176.7 L1901,1176.7 L1903,1176.7 L1905,1176.7 L1907,1176.7 L1909,1176.7 L1911,1176.7 L1913,1176.7 L1915,1176.7 L1917,1176.7 L1919,1176.7 L1921,1176.7 L1923,1176.7 L1925,1176.7 L1927,1176.7 L1928,1176.7" stroke="#0808d0" stroke-width="7.5"/>
<path d="M249,1042.5 L251,1042.4 L253,1042.4 L255,1042.3 L257,1042.3 L259,1042.2 L261,1042.2 L263,1042.1 L265,1042.1 L267,1042.0 L269,1042.0 L271,1041.9 L273,1041.9 L275,1041.8 L277,1041.8 L279,1041.8 L281,1041.7 L283,1041.7 L285,1041.7 L287,1041.6 L289,1041.6 L291,1041.6 L293,1041.5 L295,1041.5 L297,1041.5 L299,1041.5 L301,1041.4 L303,1041.4 L305,1041.4 L307,1041.4 L309,1041.4 L311,1041.3 L313,1041.3 L315,1041.3 L317,1041.3 L319,1041.3 L321,1041.3 L323,1041.3 L325,1041.3 L327,1041.3 L329,1041.3 L331,1041.3 L333,1041.3 L335,1041.3 L337,1041.3 L339,1041.3 L341,1041.3 L343,1041.3 L345,1041.3 L347,1041.3 L349,1041.3 L351,1041.3 L353,1041.3 L355,1041.4 L357,1041.4 L359,1041.4 L361,1041.4 L363,1041.4 L365,1041.5 L367,1041.5 L369,1041.5 L371,1041.5 L373,1041.6 L375,1041.6 L377,1041.6 L379,1041.6 L381,1041.7 L383,1041.7 L385,1041.7 L387,1041.8 L389,1041.8 L391,1041.9 L393,1041.9 L395,1041.9 L397,1042.0 L399,1042.0 L401,1042.1 L403,1042.1 L405,1042.2 L407,1042.2 L409,1042.3 L411,1042.3 L413,1042.4 L415,1042.4 L417,1042.5 L419,1042.6 L421,1042.6 L423,1042.7 L425,1042.7 L427,1042.8 L429,1042.9 L431,1042.9 L433,1043.0 L435,1043.1 L437,1043.1 L439,1043.2 L441,1043.3 L443,1043.3 L445,1043.4 L447,1043.5 L449,1043.6 L451,1043.6 L453,1043.7 L455,1043.8 L457,1043.9 L459,1044.0 L461,1044.0 L463,1044.1 L465,1044.2 L467,1044.3 L469,1044.4 L471,1044.5 L473,1044.6 L475,1044.7 L477,1044.8 L479,1044.9 L481,1044.9 L483,1045.0 L485,1045.1 L487,1045.2 L489,1045.3 L491,1045.4 L493,1045.5 L495,1045.6 L497,1045.7 L499,1045.9 L501,1046.0 L503,1046.1 L505,1046.2 L507,1046.3 L509,1046.4 L511,1046.5 L513,1046.6 L515,1046.7 L517,1046.8 L519,1047.0 L521,1047.1 L523,1047.2 L525,1047.3 L527,1047.4 L529,1047.6 L531,1047.7 L533,1047.8 L535,1047.9 L537,1048.1 L539,1048.2 L541,1048.3 L543,1048.4 L545,1048.6 L547,1048.7 L549,1048.8 L551,1049.0 L553,1049.1 L555,1049.2 L557,1049.4 L559,1049.5 L561,1049.7 L563,1049.8 L565,1049.9 L567,1050.1 L569,1050.2 L571,1050.4 L573,1050.5 L575,1050.7 L577,1050.8 L579,1050.9 L581,1051.1 L583,1051.2 L585,1051.4 L587,1051.5 L589,1051.7 L591,1051.9 L593,1052.0 L595,1052.2 L597,1052.3 L599,1052.5 L601,1052.6 L603,1052.8 L605,1053.0 L607,1053.1 L609,1053.3 L611,1053.4 L613,1053.6 L615,1053.8 L617,1053.9 L619,1054.1 L621,1054.3 L623,1054.4 L625,1054.6 L627,1054.8 L629,1054.9 L631,1055.1 L633,1055.3 L635,1055.5 L637,1055.6 L639,1055.8 L641,1056.0 L643,1056.2 L645,1056.3 L647,1056.5 L649,1056.7 L651,1056.9 L653,1057.1 L655,1057.2 L657,1057.4 L659,1057.6 L661,1057.8 L663,1058.0 L665,1058.2 L667,1058.4 L669,1058.5 L671,1058.7 L673,1058.9 L675,1059.1 L677,1059.3 L679,1059.5 L681,1059.7 L683,1059.9 L685,1060.1 L687,1060.3 L689,1060.5 L691,1060.7 L693,1060.9 L695,1061.1 L697,1061.3 L699,1061.5 L701,1061.7 L703,1061.9 L705,1062.1 L707,1062.3 L709,1062.5 L711,1062.7 L713,1062.9 L715,1063.1 L717,1063.3 L719,1063.5 L721,1063.7 L723,1063.9 L725,1064.1 L727,1064.3 L729,1064.5 L731,1064.7 L733,1065.0 L735,1065.2 L737,1065.4 L739,1065.6 L741,1065.8 L743,1066.0 L745,1066.2 L747,1066.5 L749,1066.7 L751,1066.9 L753,1067.1 L755,1067.3 L757,1067.5 L759,1067.8 L761,1068.0 L763,1068.2 L765,1068.4 L767,1068.6 L769,1068.9 L771,1069.1 L773,1069.3 L775,1069.5 L777,1069.8 L779,1070.0 L781,1070.2 L783,1070.4 L785,1070.7 L787,1070.9 L789,1071.1 L791,1071.4 L793,1071.6 L795,1071.8 L797,1072.0 L799,1072.3 L801,1072.5 L803,1072.7 L805,1073.0 L807,1073.2 L809,1073.4 L811,1073.7 L813,1073.9 L815,1074.1 L817,1074.4 L819,1074.6 L821,1074.8 L823,1075.1 L825,1075.3 L827,1075.5 L829,1075.8 L831,1076.0 L833,1076.2 L835,1076.5 L837,1076.7 L839,1077.0 L841,1077.2 L843,1077.4 L845,1077.7 L847,1077.9 L849,1078.1 L851,1078.4 L853,1078.6 L855,1078.9 L857,1079.1 L859,1079.3 L861,1079.6 L863,1079.8 L865,1080.1 L867,1080.3 L869,1080.5 L871,1080.8 L873,1081.0 L875,1081.2 L877,1081.5 L879,1081.7 L881,1082.0 L883,1082.2 L885,1082.4 L887,1082.7 L889,1082.9 L891,1083.1 L893,1083.4 L895,1083.6 L897,1083.9 L899,1084.1 L901,1084.3 L903,1084.6 L905,1084.8 L907,1085.0 L909,1085.3 L911,1085.5 L913,1085.7 L915,1085.9 L917,1086.2 L919,1086.4 L921,1086.6 L923,1086.9 L925,1087.1 L927,1087.3 L929,1087.5 L931,1087.8 L933,1088.0 L935,1088.2 L937,1088.4 L939,1088.6 L941,1088.8 L943,1089.1 L945,1089.3 L947,1089.5 L949,1089.7 L951,1089.9 L953,1090.1 L955,1090.3 L957,1090.5 L959,1090.7 L961,1090.9 L963,1091.1 L965,1091.3 L967,1091.5 L969,1091.7 L971,1091.9 L973,1092.1 L975,1092.2 L977,1092.4 L979,1092.6 L981,1092.8 L983,1093.0 L985,1093.1 L987,1093.3 L989,1093.4 L991,1093.6 L993,1093.8 L995,1093.9 L997,1094.1 L999,1094.2 L1001,1094.3 L1003,1094.5 L1005,1094.6 L1007,1094.7 L1009,1094.9 L1011,1095.0 L1013,1095.1 L1015,1095.2 L1017,1095.3 L1019,1095.4 L1021,1095.5 L1023,1095.6 L1025,1095.7 L1027,1095.8 L1029,1095.9 L1031,1095.9 L1033,1096.0 L1035,1096.1 L1037,1096.1 L1039,1096.1 L1041,1096.2 L1043,1096.2 L1045,1096.2 L1047,1096.3 L1049,1096.3 L1051,1096.3 L1053,1096.3 L1055,1096.3 L1057,1096.3 L1059,1096.2 L1061,1096.2 L1063,1096.2 L1065,1096.1 L1067,1096.1 L1069,1096.0 L1071,1095.9 L1073,1095.9 L1075,1095.8 L1077,1095.7 L1079,1095.6 L1081,1095.5 L1083,1095.3 L1085,1095.2 L1087,1095.0 L1089,1094.9 L1091,1094.7 L1093,1094.6 L1095,1094.4 L1097,1094.2 L1099,1094.0 L1101,1093.8 L1103,1093.5 L1105,1093.3 L1107,1093.0 L1109,1092.8 L1111,1092.5 L1113,1092.2 L1115,1091.9 L1117,1091.6 L1119,1091.3 L1121,1091.0 L1123,1090.6 L1125,1090.3 L1127,1089.9 L1129,1089.5 L1131,1089.1 L1133,1088.7 L1135,1088.3 L1137,1087.9 L1139,1087.4 L1141,1087.0 L1143,1086.5 L1145,1086.0 L1147,1085.5 L1149,1085.0 L1151,1084.5 L1153,1084.0 L1155,1083.4 L1157,1082.8 L1159,1082.3 L1161,1081.7 L1163,1081.1 L1165,1080.4 L1167,1079.8 L1169,1079.2 L1171,1078.5 L1173,1077.8 L1175,1077.1 L1177,1076.4 L1179,1075.7 L1181,1075.0 L1183,1074.2 L1185,1073.5 L1187,1072.7 L1189,1071.9 L1191,1071.1 L1193,1070.3 L1195,1069.5 L1197,1068.6 L1199,1067.8 L1201,1066.9 L1203,1066.0 L1205,1065.2 L1207,1064.2 L1209,1063.3 L1211,1062.4 L1213,1061.5 L1215,1060.5 L1217,1059.5 L1219,1058.6 L1221,1057.6 L1223,1056.6 L1225,1055.5 L1227,1054.5 L1229,1053.5 L1231,1052.4 L1233,1051.4 L1235,1050.3 L1237,1049.2 L1239,1048.1 L1241,1047.0 L1243,1045.9 L1245,1044.8 L1247,1043.7 L1249,1042.5 L1251,1041.4 L1253,1040.2 L1255,1039.1 L1257,1037.9 L1259,1036.7 L1261,1035.6 L1263,1034.4 L1265,1033.2 L1267,1032.0 L1269,1030.8 L1271,1029.6 L1273,1028.4 L1275,1027.1 L1277,1025.9 L1279,1024.7 L1281,1023.5 L1283,1022.2 L1285,1021.0 L1287,1019.8 L1289,1018.6 L1291,1017.3 L1293,1016.1 L1295,1014.9 L1297,1013.6 L1299,1012.4 L1301,1011.2 L1303,1010.0 L1305,1008.8 L1307,1007.5 L1309,1006.3 L1311,1005.1 L1313,1003.9 L1315,1002.8 L1317,1001.6 L1319,1000.4 L1321,999.2 L1323,998.1 L1325,996.9 L1327,995.8 L1329,994.7 L1331,993.5 L1333,992.4 L1335,991.4 L1337,990.3 L1339,989.2 L1341,988.2 L1343,987.1 L1345,986.1 L1347,985.1 L1349,984.1 L1351,983.2 L1353,982.2 L1355,981.3 L1357,980.4 L1359,979.5 L1361,978.6 L1363,977.8 L1365,976.9 L1367,976.1 L1369,975.3 L1371,974.6 L1373,973.9 L1375,973.1 L1377,972.5 L1379,971.8 L1381,971.2 L1383,970.6 L1385,970.0 L1387,969.5 L1389,968.9 L1391,968.5 L1393,968.0 L1395,967.6 L1397,967.2 L1399,966.8 L1401,966.5 L1403,966.2 L1405,965.9 L1407,965.7 L1409,965.5 L1411,965.3 L1413,965.1 L1415,965.0 L1417,965.0 L1419,964.9 L1421,964.9 L1423,965.0 L1425,965.0 L1427,965.1 L1429,965.3 L1431,965.4 L1433,965.7 L1435,965.9 L1437,966.2 L1439,966.5 L1441,966.9 L1443,967.2 L1445,967.7 L1447,968.1 L1449,968.6 L1451,969.2 L1453,969.7 L1455,970.3 L1457,971.0 L1459,971.6 L1461,972.3 L1463,973.1 L1465,973.8 L1467,974.7 L1469,975.5 L1471,976.4 L1473,977.3 L1475,978.2 L1477,979.2 L1479,980.2 L1481,981.2 L1483,982.2 L1485,983.3 L1487,984.4 L1489,985.6 L1491,986.8 L1493,988.0 L1495,989.2 L1497,990.4 L1499,991.7 L1501,993.0 L1503,994.3 L1505,995.7 L1507,997.0 L1509,998.2 L1511,999.3 L1513,1000.4 L1515,1001.5 L1517,1002.6 L1519,1003.7 L1521,1004.9 L1523,1006.1 L1525,1007.3 L1527,1008.6 L1529,1010.0 L1531,1011.5 L1533,1013.0 L1535,1014.6 L1537,1016.2 L1539,1017.9 L1541,1019.7 L1543,1021.5 L1545,1023.3 L1547,1025.2 L1549,1027.1 L1551,1029.1 L1553,1031.0 L1555,1033.0 L1557,1034.9 L1559,1036.8 L1561,1038.7 L1563,1040.5 L1565,1042.3 L1567,1044.1 L1569,1045.9 L1571,1047.6 L1573,1049.3 L1575,1051.0 L1577,1052.6 L1579,1054.3 L1581,1055.9 L1583,1057.6 L1585,1059.2 L1587,1060.8 L1589,1062.5 L1591,1064.1 L1593,1065.7 L1595,1067.3 L1597,1068.9 L1599,1070.5 L1601,1072.1 L1603,1073.8 L1605,1075.4 L1607,1077.0 L1609,1078.7 L1611,1080.3 L1613,1081.9 L1615,1083.5 L1617,1085.1 L1619,1086.7 L1621,1088.4 L1623,1090.0 L1625,1091.6 L1627,1093.1 L1629,1094.7 L1631,1096.3 L1633,1097.9 L1635,1099.4 L1637,1101.0 L1639,1102.5 L1641,1104.1 L1643,1105.6 L1645,1107.1 L1647,1108.6 L1649,1110.1 L1651,1111.6 L1653,1113.0 L1655,1114.4 L1657,1115.8 L1659,1117.2 L1661,1118.6 L1663,1119.9 L1665,1121.2 L1667,1122.5 L1669,1123.8 L1671,1125.1 L1673,1126.3 L1675,1127.5 L1677,1128.7 L1679,1129.9 L1681,1131.0 L1683,1132.1 L1685,1133.2 L1687,1134.3 L1689,1135.3 L1691,1136.4 L1693,1137.4 L1695,1138.3 L1697,1139.3 L1699,1140.2 L1701,1141.1 L1703,1142.0 L1705,1142.8 L1707,1143.7 L1709,1144.5 L1711,1145.3 L1713,1146.1 L1715,1146.8 L1717,1147.6 L1719,1148.3 L1721,1149.0 L1723,1149.7 L1725,1150.4 L1727,1151.1 L1729,1151.7 L1731,1152.4 L1733,1153.1 L1735,1153.7 L1737,1154.4 L1739,1155.0 L1741,1155.6 L1743,1156.3 L1745,1156.9 L1747,1157.5 L1749,1158.1 L1751,1158.6 L1753,1159.2 L1755,1159.8 L1757,1160.3 L1759,1160.8 L1761,1161.3 L1763,1161.8 L1765,1162.3 L1767,1162.8 L1769,1163.2 L1771,1163.7 L1773,1164.1 L1775,1164.5 L1777,1164.9 L1779,1165.3 L1781,1165.6 L1783,1166.0 L1785,1166.3 L1787,1166.6 L1789,1166.9 L1791,1167.2 L1793,1167.5 L1795,1167.8 L1797,1168.0 L1799,1168.3 L1801,1168.5 L1803,1168.8 L1805,1169.0 L1807,1169.2 L1809,1169.4 L1811,1169.6 L1813,1169.9 L1815,1170.1 L1817,1170.3 L1819,1170.5 L1821,1170.7 L1823,1170.9 L1825,1171.1 L1827,1171.3 L1829,1171.6 L1831,1171.8 L1833,1172.0 L1835,1172.2 L1837,1172.5 L1839,1172.7 L1841,1172.9 L1843,1173.2 L1845,1173.4 L1847,1173.6 L1849,1173.8 L1851,1174.1 L1853,1174.3 L1855,1174.5 L1857,1174.7 L1859,1174.9 L1861,1175.0 L1863,1175.2 L1865,1175.4 L1867,1175.5 L1869,1175.7 L1871,1175.8 L1873,1176.0 L1875,1176.1 L1877,1176.2 L1879,1176.3 L1881,1176.4 L1883,1176.6 L1885,1176.7 L1887,1176.7 L1889,1176.8 L1891,1176.9 L1893,1177.0 L1895,1177.1 L1897,1177.1 L1899,1177.2 L1901,1177.3 L1903,1177.3 L1905,1177.4 L1907,1177.4 L1909,1177.5 L1911,1177.5 L1913,1177.6 L1915,1177.6 L1917,1177.6 L1919,1177.7 L1921,1177.7 L1923,1177.7 L1925,1177.8 L1927,1177.8 L1928,1177.8" stroke="#680a0e" stroke-width="7.5"/>
<path d="M249,1043.3 L251,1043.3 L253,1043.2 L255,1043.1 L257,1043.1 L259,1043.0 L261,1043.0 L263,1042.9 L265,1042.9 L267,1042.8 L269,1042.8 L271,1042.8 L273,1042.7 L275,1042.7 L277,1042.6 L279,1042.6 L281,1042.6 L283,1042.5 L285,1042.5 L287,1042.5 L289,1042.4 L291,1042.4 L293,1042.4 L295,1042.4 L297,1042.3 L299,1042.3 L301,1042.3 L303,1042.3 L305,1042.3 L307,1042.3 L309,1042.2 L311,1042.2 L313,1042.2 L315,1042.2 L317,1042.2 L319,1042.2 L321,1042.2 L323,1042.2 L325,1042.2 L327,1042.2 L329,1042.2 L331,1042.2 L333,1042.2 L335,1042.2 L337,1042.2 L339,1042.2 L341,1042.2 L343,1042.2 L345,1042.2 L347,1042.2 L349,1042.3 L351,1042.3 L353,1042.3 L355,1042.3 L357,1042.3 L359,1042.4 L361,1042.4 L363,1042.4 L365,1042.4 L367,1042.5 L369,1042.5 L371,1042.5 L373,1042.5 L375,1042.6 L377,1042.6 L379,1042.6 L381,1042.7 L383,1042.7 L385,1042.8 L387,1042.8 L389,1042.8 L391,1042.9 L393,1042.9 L395,1043.0 L397,1043.0 L399,1043.1 L401,1043.1 L403,1043.2 L405,1043.2 L407,1043.3 L409,1043.3 L411,1043.4 L413,1043.5 L415,1043.5 L417,1043.6 L419,1043.6 L421,1043.7 L423,1043.8 L425,1043.8 L427,1043.9 L429,1044.0 L431,1044.0 L433,1044.1 L435,1044.2 L437,1044.2 L439,1044.3 L441,1044.4 L443,1044.5 L445,1044.6 L447,1044.6 L449,1044.7 L451,1044.8 L453,1044.9 L455,1045.0 L457,1045.0 L459,1045.1 L461,1045.2 L463,1045.3 L465,1045.4 L467,1045.5 L469,1045.6 L471,1045.7 L473,1045.8 L475,1045.9 L477,1046.0 L479,1046.1 L481,1046.2 L483,1046.3 L485,1046.4 L487,1046.5 L489,1046.6 L491,1046.7 L493,1046.8 L495,1046.9 L497,1047.0 L499,1047.1 L501,1047.2 L503,1047.3 L505,1047.5 L507,1047.6 L509,1047.7 L511,1047.8 L513,1047.9 L515,1048.0 L517,1048.2 L519,1048.3 L521,1048.4 L523,1048.5 L525,1048.7 L527,1048.8 L529,1048.9 L531,1049.0 L533,1049.2 L535,1049.3 L537,1049.4 L539,1049.6 L541,1049.7 L543,1049.8 L545,1050.0 L547,1050.1 L549,1050.2 L551,1050.4 L553,1050.5 L555,1050.7 L557,1050.8 L559,1051.0 L561,1051.1 L563,1051.2 L565,1051.4 L567,1051.5 L569,1051.7 L571,1051.8 L573,1052.0 L575,1052.1 L577,1052.3 L579,1052.5 L581,1052.6 L583,1052.8 L585,1052.9 L587,1053.1 L589,1053.2 L591,1053.4 L593,1053.6 L595,1053.7 L597,1053.9 L599,1054.0 L601,1054.2 L603,1054.4 L605,1054.5 L607,1054.7 L609,1054.9 L611,1055.1 L613,1055.2 L615,1055.4 L617,1055.6 L619,1055.7 L621,1055.9 L623,1056.1 L625,1056.3 L627,1056.5 L629,1056.6 L631,1056.8 L633,1057.0 L635,1057.2 L637,1057.4 L639,1057.5 L641,1057.7 L643,1057.9 L645,1058.1 L647,1058.3 L649,1058.5 L651,1058.7 L653,1058.8 L655,1059.0 L657,1059.2 L659,1059.4 L661,1059.6 L663,1059.8 L665,1060.0 L667,1060.2 L669,1060.4 L671,1060.6 L673,1060.8 L675,1061.0 L677,1061.2 L679,1061.4 L681,1061.6 L683,1061.8 L685,1062.0 L687,1062.2 L689,1062.4 L691,1062.6 L693,1062.8 L695,1063.0 L697,1063.3 L699,1063.5 L701,1063.7 L703,1063.9 L705,1064.1 L707,1064.3 L709,1064.5 L711,1064.7 L713,1065.0 L715,1065.2 L717,1065.4 L719,1065.6 L721,1065.8 L723,1066.0 L725,1066.3 L727,1066.5 L729,1066.7 L731,1066.9 L733,1067.2 L735,1067.4 L737,1067.6 L739,1067.8 L741,1068.1 L743,1068.3 L745,1068.5 L747,1068.7 L749,1069.0 L751,1069.2 L753,1069.4 L755,1069.7 L757,1069.9 L759,1070.1 L761,1070.4 L763,1070.6 L765,1070.8 L767,1071.1 L769,1071.3 L771,1071.5 L773,1071.8 L775,1072.0 L777,1072.3 L779,1072.5 L781,1072.7 L783,1073.0 L785,1073.2 L787,1073.5 L789,1073.7 L791,1074.0 L793,1074.2 L795,1074.5 L797,1074.7 L799,1074.9 L801,1075.2 L803,1075.4 L805,1075.7 L807,1075.9 L809,1076.2 L811,1076.4 L813,1076.7 L815,1077.0 L817,1077.2 L819,1077.5 L821,1077.7 L823,1078.0 L825,1078.2 L827,1078.5 L829,1078.7 L831,1079.0 L833,1079.3 L835,1079.5 L837,1079.8 L839,1080.0 L841,1080.3 L843,1080.6 L845,1080.8 L847,1081.1 L849,1081.3 L851,1081.6 L853,1081.9 L855,1082.1 L857,1082.4 L859,1082.7 L861,1082.9 L863,1083.2 L865,1083.5 L867,1083.7 L869,1084.0 L871,1084.3 L873,1084.5 L875,1084.8 L877,1085.1 L879,1085.4 L881,1085.6 L883,1085.9 L885,1086.2 L887,1086.5 L889,1086.7 L891,1087.0 L893,1087.3 L895,1087.6 L897,1087.8 L899,1088.1 L901,1088.4 L903,1088.7 L905,1088.9 L907,1089.2 L909,1089.5 L911,1089.8 L913,1090.1 L915,1090.3 L917,1090.6 L919,1090.9 L921,1091.2 L923,1091.5 L925,1091.7 L927,1092.0 L929,1092.3 L931,1092.6 L933,1092.9 L935,1093.2 L937,1093.5 L939,1093.7 L941,1094.0 L943,1094.3 L945,1094.6 L947,1094.9 L949,1095.2 L951,1095.5 L953,1095.8 L955,1096.1 L957,1096.3 L959,1096.6 L961,1096.9 L963,1097.2 L965,1097.5 L967,1097.8 L969,1098.1 L971,1098.4 L973,1098.7 L975,1099.0 L977,1099.3 L979,1099.6 L981,1099.9 L983,1100.2 L985,1100.4 L987,1100.7 L989,1101.0 L991,1101.3 L993,1101.6 L995,1101.9 L997,1102.2 L999,1102.5 L1001,1102.8 L1003,1103.1 L1005,1103.4 L1007,1103.7 L1009,1104.0 L1011,1104.3 L1013,1104.6 L1015,1104.9 L1017,1105.2 L1019,1105.5 L1021,1105.8 L1023,1106.1 L1025,1106.4 L1027,1106.7 L1029,1107.0 L1031,1107.3 L1033,1107.6 L1035,1107.9 L1037,1108.3 L1039,1108.6 L1041,1108.9 L1043,1109.2 L1045,1109.5 L1047,1109.8 L1049,1110.1 L1051,1110.4 L1053,1110.7 L1055,1111.0 L1057,1111.3 L1059,1111.6 L1061,1111.9 L1063,1112.2 L1065,1112.5 L1067,1112.8 L1069,1113.2 L1071,1113.5 L1073,1113.8 L1075,1114.1 L1077,1114.4 L1079,1114.7 L1081,1115.0 L1083,1115.3 L1085,1115.6 L1087,1115.9 L1089,1116.3 L1091,1116.6 L1093,1116.9 L1095,1117.2 L1097,1117.5 L1099,1117.8 L1101,1118.1 L1103,1118.4 L1105,1118.7 L1107,1119.1 L1109,1119.4 L1111,1119.7 L1113,1120.0 L1115,1120.3 L1117,1120.6 L1119,1120.9 L1121,1121.3 L1123,1121.6 L1125,1121.9 L1127,1122.2 L1129,1122.5 L1131,1122.8 L1133,1123.2 L1135,1123.5 L1137,1123.8 L1139,1124.1 L1141,1124.4 L1143,1124.7 L1145,1125.1 L1147,1125.4 L1149,1125.7 L1151,1126.0 L1153,1126.3 L1155,1126.6 L1157,1127.0 L1159,1127.3 L1161,1127.6 L1163,1127.9 L1165,1128.2 L1167,1128.6 L1169,1128.9 L1171,1129.2 L1173,1129.5 L1175,1129.8 L1177,1130.2 L1179,1130.5 L1181,1130.8 L1183,1131.1 L1185,1131.5 L1187,1131.8 L1189,1132.1 L1191,1132.4 L1193,1132.8 L1195,1133.1 L1197,1133.4 L1199,1133.7 L1201,1134.0 L1203,1134.4 L1205,1134.7 L1207,1135.0 L1209,1135.3 L1211,1135.7 L1213,1136.0 L1215,1136.3 L1217,1136.7 L1219,1137.0 L1221,1137.3 L1223,1137.6 L1225,1138.0 L1227,1138.3 L1229,1138.6 L1231,1138.9 L1233,1139.3 L1235,1139.6 L1237,1139.9 L1239,1140.2 L1241,1140.6 L1243,1140.9 L1245,1141.2 L1247,1141.5 L1249,1141.9 L1251,1142.2 L1253,1142.5 L1255,1142.8 L1257,1143.1 L1259,1143.5 L1261,1143.8 L1263,1144.1 L1265,1144.4 L1267,1144.7 L1269,1145.1 L1271,1145.4 L1273,1145.7 L1275,1146.0 L1277,1146.3 L1279,1146.6 L1281,1146.9 L1283,1147.3 L1285,1147.6 L1287,1147.9 L1289,1148.2 L1291,1148.5 L1293,1148.8 L1295,1149.1 L1297,1149.4 L1299,1149.7 L1301,1150.0 L1303,1150.3 L1305,1150.6 L1307,1150.9 L1309,1151.2 L1311,1151.5 L1313,1151.8 L1315,1152.1 L1317,1152.4 L1319,1152.7 L1321,1153.0 L1323,1153.3 L1325,1153.6 L1327,1153.9 L1329,1154.2 L1331,1154.4 L1333,1154.7 L1335,1155.0 L1337,1155.3 L1339,1155.6 L1341,1155.8 L1343,1156.1 L1345,1156.4 L1347,1156.7 L1349,1156.9 L1351,1157.2 L1353,1157.5 L1355,1157.7 L1357,1158.0 L1359,1158.2 L1361,1158.5 L1363,1158.8 L1365,1159.0 L1367,1159.3 L1369,1159.5 L1371,1159.8 L1373,1160.0 L1375,1160.2 L1377,1160.5 L1379,1160.7 L1381,1161.0 L1383,1161.2 L1385,1161.4 L1387,1161.7 L1389,1161.9 L1391,1162.1 L1393,1162.3 L1395,1162.6 L1397,1162.8 L1399,1163.0 L1401,1163.2 L1403,1163.4 L1405,1163.7 L1407,1163.9 L1409,1164.1 L1411,1164.3 L1413,1164.5 L1415,1164.7 L1417,1164.9 L1419,1165.1 L1421,1165.3 L1423,1165.5 L1425,1165.7 L1427,1165.8 L1429,1166.0 L1431,1166.2 L1433,1166.4 L1435,1166.6 L1437,1166.8 L1439,1166.9 L1441,1167.1 L1443,1167.3 L1445,1167.5 L1447,1167.6 L1449,1167.8 L1451,1168.0 L1453,1168.1 L1455,1168.3 L1457,1168.5 L1459,1168.6 L1461,1168.8 L1463,1168.9 L1465,1169.1 L1467,1169.2 L1469,1169.4 L1471,1169.5 L1473,1169.7 L1475,1169.8 L1477,1170.0 L1479,1170.1 L1481,1170.2 L1483,1170.4 L1485,1170.5 L1487,1170.7 L1489,1170.8 L1491,1170.9 L1493,1171.1 L1495,1171.2 L1497,1171.3 L1499,1171.4 L1501,1171.6 L1503,1171.7 L1505,1171.8 L1507,1171.9 L1509,1172.0 L1511,1172.1 L1513,1172.3 L1515,1172.4 L1517,1172.5 L1519,1172.6 L1521,1172.7 L1523,1172.8 L1525,1172.9 L1527,1173.0 L1529,1173.1 L1531,1173.2 L1533,1173.3 L1535,1173.4 L1537,1173.5 L1539,1173.6 L1541,1173.7 L1543,1173.8 L1545,1173.9 L1547,1174.0 L1549,1174.0 L1551,1174.1 L1553,1174.2 L1555,1174.3 L1557,1174.4 L1559,1174.5 L1561,1174.5 L1563,1174.6 L1565,1174.7 L1567,1174.8 L1569,1174.8 L1571,1174.9 L1573,1175.0 L1575,1175.1 L1577,1175.1 L1579,1175.2 L1581,1175.3 L1583,1175.3 L1585,1175.4 L1587,1175.5 L1589,1175.5 L1591,1175.6 L1593,1175.6 L1595,1175.7 L1597,1175.8 L1599,1175.8 L1601,1175.9 L1603,1175.9 L1605,1176.0 L1607,1176.0 L1609,1176.1 L1611,1176.1 L1613,1176.2 L1615,1176.2 L1617,1176.3 L1619,1176.3 L1621,1176.4 L1623,1176.4 L1625,1176.4 L1627,1176.5 L1629,1176.5 L1631,1176.6 L1633,1176.6 L1635,1176.6 L1637,1176.7 L1639,1176.7 L1641,1176.7 L1643,1176.8 L1645,1176.8 L1647,1176.8 L1649,1176.9 L1651,1176.9" stroke="#38d038" stroke-width="6"/>
<path d="M1652,1176.9 L1654,1176.9 L1656,1177.0 L1658,1177.0 L1660,1177.0 L1662,1177.1 L1664,1177.1 L1666,1177.1 L1668,1177.1 L1670,1177.1 L1672,1177.2 L1674,1177.2 L1676,1177.2 L1678,1177.2 L1680,1177.2 L1682,1177.3 L1684,1177.3 L1686,1177.3 L1688,1177.3 L1690,1177.3 L1692,1177.3 L1694,1177.4 L1696,1177.4 L1698,1177.4 L1700,1177.4 L1702,1177.4 L1704,1177.4 L1706,1177.4 L1708,1177.4 L1710,1177.4 L1712,1177.4 L1714,1177.5 L1716,1177.5 L1718,1177.5 L1720,1177.5 L1722,1177.5 L1724,1177.5 L1726,1177.5 L1728,1177.5 L1730,1177.5 L1732,1177.5 L1734,1177.5 L1736,1177.5 L1738,1177.5 L1740,1177.5 L1742,1177.5 L1744,1177.5 L1746,1177.5 L1748,1177.5 L1750,1177.5 L1752,1177.5 L1754,1177.5 L1756,1177.5 L1758,1177.5 L1760,1177.5 L1762,1177.5 L1764,1177.5 L1766,1177.5 L1768,1177.5 L1770,1177.5 L1772,1177.5 L1774,1177.5 L1776,1177.5 L1778,1177.4 L1780,1177.4 L1782,1177.4 L1784,1177.4 L1786,1177.4 L1788,1177.4 L1790,1177.4 L1792,1177.4 L1794,1177.4 L1796,1177.4 L1798,1177.4 L1800,1177.4 L1802,1177.4 L1804,1177.4 L1806,1177.3 L1808,1177.3 L1810,1177.3 L1812,1177.3 L1814,1177.3 L1816,1177.3 L1818,1177.3 L1820,1177.3 L1822,1177.3 L1824,1177.3 L1826,1177.3 L1828,1177.3 L1830,1177.2 L1832,1177.2 L1834,1177.2 L1836,1177.2 L1838,1177.2 L1840,1177.2 L1842,1177.2 L1844,1177.2 L1846,1177.2 L1848,1177.2 L1850,1177.2 L1852,1177.1 L1854,1177.1 L1856,1177.1 L1858,1177.1 L1860,1177.1 L1862,1177.1 L1864,1177.1 L1866,1177.1 L1868,1177.1 L1870,1177.1 L1872,1177.1 L1874,1177.1 L1876,1177.1 L1878,1177.1 L1880,1177.1 L1882,1177.0 L1884,1177.0 L1886,1177.0 L1888,1177.0 L1890,1177.0 L1892,1177.0 L1894,1177.0 L1896,1177.0 L1898,1177.0 L1900,1177.0 L1902,1177.0 L1904,1177.0 L1906,1177.0 L1908,1177.0 L1910,1177.0 L1912,1177.0 L1914,1177.0 L1916,1177.0 L1918,1177.0 L1920,1177.0 L1922,1177.0 L1924,1177.0 L1926,1177.0 L1928,1177.0" stroke="#50b4ae" stroke-width="5"/>
<path d="M249.2,1036.5 L253.2,1036.5 L257.3,1035.7 L261.3,1034.9 L265.3,1035.0 L269.4,1034.2 L273.4,1034.9 L277.4,1035.7 L281.5,1033.8 L285.5,1033.3 L289.6,1033.9 L293.6,1033.4 L297.7,1032.7 L301.7,1031.2 L305.8,1031.5 L309.9,1031.5 L314.0,1029.0 L318.1,1029.1 L322.1,1027.0 L326.2,1026.8 L330.4,1025.4 L334.4,1025.8 L338.5,1023.8 L342.6,1024.0 L346.7,1022.6 L350.8,1020.9 L354.9,1017.4 L359.0,1017.6 L363.1,1016.3 L367.3,1014.7 L371.4,1011.3 L375.5,1010.2 L379.6,1007.7 L383.6,1005.7 L387.7,1005.1 L391.8,1001.1 L395.9,999.3 L400.0,997.5 L404.1,993.5 L408.1,991.2 L412.1,988.6 L416.2,985.7 L420.2,981.7 L424.2,980.0 L428.3,978.2 L432.3,972.5 L436.4,971.5 L440.4,967.8 L444.3,964.0 L448.3,963.4 L452.3,959.2 L456.4,954.4 L460.4,952.4 L464.5,949.5 L468.6,945.4 L472.7,942.5 L476.8,938.0 L480.9,934.6 L485.0,931.0 L489.2,924.4 L493.3,920.4 L497.3,914.6 L501.4,909.8 L505.5,903.1 L509.5,897.9 L513.6,892.3 L517.6,887.2 L521.6,881.2 L525.7,872.6 L529.7,866.6 L533.7,861.2 L537.7,852.2 L541.7,846.7 L545.8,840.2 L549.8,834.4 L553.8,826.7 L557.8,818.6 L561.8,811.2 L565.7,803.7 L569.1,797.4 L572.4,787.5 L575.8,779.5 L579.2,771.8 L582.5,763.0 L585.9,754.4 L589.9,745.4 L593.9,738.0 L597.9,729.3 L601.9,722.3 L605.8,713.5 L609.8,704.5 L613.8,696.8 L617.8,687.6 L621.8,680.6 L625.8,671.5 L629.8,663.9 L633.7,654.2 L637.7,647.7 L641.7,637.9 L645.7,629.8 L649.7,623.7 L653.7,615.7 L657.7,609.4 L661.6,604.2 L665.6,594.6 L669.6,588.1 L673.6,582.5 L677.6,576.6 L681.6,570.0 L685.5,564.3 L689.5,559.5 L693.5,554.0 L697.5,547.4 L701.5,543.3 L705.4,538.6 L709.4,533.2 L713.4,530.1 L717.4,525.2 L721.3,523.3 L725.3,519.4 L729.3,516.4 L733.2,513.3 L737.2,511.6 L741.1,508.2 L745.1,507.7 L749.0,508.1 L753.0,505.3 L757.0,508.4 L760.9,507.3 L764.6,511.0 L768.1,511.4 L771.6,514.9 L775.1,516.2 L778.9,516.3 L782.6,520.7 L786.4,523.1 L790.2,524.1 L794.1,526.6 L798.0,529.6 L801.9,531.9 L805.8,537.0 L809.7,538.9 L813.7,542.8 L817.7,545.6 L821.6,549.4 L825.6,552.5 L829.6,558.4 L833.6,560.9 L837.5,565.8 L841.5,568.8 L845.5,572.0 L849.8,576.0 L854.0,579.3 L858.3,583.3 L862.6,586.3 L866.9,589.7 L871.2,592.0 L875.5,595.7 L879.8,601.0 L883.9,602.0 L888.0,604.6 L892.2,608.6 L896.3,612.2 L900.4,612.1 L904.6,615.4 L908.7,617.1 L912.8,617.9 L916.9,621.8 L920.9,622.5 L925.0,623.7 L929.3,622.7 L933.4,623.3 L937.4,621.5 L941.1,621.4 L944.8,621.8 L948.7,622.6 L952.9,625.6 L957.0,623.5 L961.0,622.9 L965.0,620.9 L969.0,618.5 L973.0,616.1 L977.0,614.4 L981.0,610.4 L985.0,607.1 L989.0,603.4 L993.0,600.2 L997.0,595.2 L1001.0,590.1 L1005.0,584.0 L1009.0,577.8 L1013.0,574.1 L1017.0,568.0 L1021.0,560.8 L1025.0,555.0 L1029.0,548.6 L1033.0,541.8 L1037.0,535.0 L1041.0,526.8 L1045.0,521.4 L1049.0,511.7 L1053.0,506.4 L1057.0,498.7 L1061.0,491.8 L1065.0,485.4 L1069.0,477.7 L1073.0,468.1 L1077.0,460.4 L1081.0,455.5 L1085.0,446.8 L1089.0,440.8 L1093.6,435.0 L1098.5,426.5 L1103.4,419.9 L1108.2,416.1 L1113.0,410.1 L1117.2,403.9 L1121.2,398.3 L1125.1,392.0 L1129.1,386.3 L1133.0,382.8 L1136.9,377.7 L1140.7,373.3 L1144.5,371.8 L1148.2,368.5 L1151.8,366.6 L1155.4,363.5 L1158.9,362.3 L1162.4,361.0 L1165.8,360.5 L1169.3,361.2 L1172.8,360.4 L1176.3,361.7 L1179.8,362.4 L1183.3,364.8 L1186.8,363.0 L1190.4,366.6 L1194.0,367.7 L1197.6,370.1 L1201.3,371.5 L1205.0,375.6 L1208.8,380.3 L1212.6,383.7 L1216.5,388.5 L1220.4,393.3 L1224.3,400.2 L1228.2,405.2 L1232.2,409.8 L1236.1,418.1 L1240.1,424.3 L1244.1,430.9 L1248.1,441.4 L1252.1,451.4 L1256.1,458.9 L1260.1,467.0 L1264.1,476.7 L1268.1,488.5 L1272.1,497.9 L1276.1,508.5 L1280.2,519.3 L1284.2,530.5 L1288.2,542.6 L1292.3,553.8 L1296.4,564.9 L1300.8,575.0 L1305.1,587.5 L1309.5,597.4 L1313.9,609.8 L1318.3,618.4 L1322.7,630.2 L1327.0,641.0 L1331.2,650.7 L1335.3,664.5 L1339.4,675.3 L1343.5,684.6 L1347.6,696.7 L1351.7,707.1 L1355.9,714.9 L1360.0,727.7 L1364.1,737.4 L1368.2,747.2 L1372.3,755.6 L1376.4,765.5 L1380.5,774.5 L1384.6,784.3 L1388.7,791.9 L1392.8,799.7 L1396.9,808.9 L1401.1,814.6 L1405.7,821.8 L1410.2,827.3 L1414.8,836.8 L1419.3,842.5 L1423.8,848.5 L1428.4,854.2 L1431.7,860.2 L1435.0,866.7 L1438.3,872.6 L1441.7,879.0 L1445.0,885.6 L1448.6,893.1 L1452.2,898.3 L1455.9,903.9 L1459.5,909.5 L1463.1,915.5 L1466.8,923.5 L1470.4,928.4 L1474.0,933.8 L1477.8,939.2 L1481.7,944.0 L1485.6,950.4 L1489.6,956.6 L1493.5,960.7 L1497.4,966.1 L1501.4,971.3 L1505.3,976.6 L1509.3,980.1 L1513.2,986.3 L1517.2,990.5 L1521.2,996.8 L1525.2,1000.0 L1529.2,1005.8 L1533.3,1011.3 L1537.3,1014.1 L1541.3,1018.3 L1545.3,1023.4 L1549.4,1027.5 L1553.5,1030.8 L1557.5,1036.1 L1561.6,1041.3 L1565.7,1043.0 L1569.7,1046.6 L1573.7,1049.3 L1577.8,1054.0 L1581.8,1056.0 L1585.8,1059.5 L1589.8,1065.0 L1593.8,1066.4 L1597.8,1071.5 L1601.8,1075.2 L1605.8,1077.4 L1609.8,1081.0 L1613.8,1085.5 L1617.8,1086.9 L1621.8,1089.8 L1625.9,1092.3 L1629.9,1096.8 L1633.9,1101.3 L1637.9,1104.0 L1642.0,1105.4 L1646.0,1108.6 L1650.0,1111.9 L1654.1,1115.5 L1658.2,1117.9 L1662.2,1121.1 L1666.3,1123.8 L1670.4,1125.9 L1674.4,1128.6 L1678.5,1131.2 L1682.6,1133.3 L1686.6,1136.0 L1690.7,1139.4 L1694.8,1140.3 L1698.9,1141.7 L1703.0,1142.0 L1707.1,1145.6 L1711.2,1145.1 L1715.2,1147.1 L1719.3,1150.6 L1723.4,1151.8 L1727.5,1152.2 L1731.6,1152.0 L1735.7,1154.3 L1739.8,1155.2 L1743.9,1157.5 L1748.0,1160.0 L1752.1,1159.1 L1756.2,1159.2 L1760.3,1159.7 L1764.4,1161.5 L1768.5,1162.0 L1772.6,1161.8 L1776.7,1163.4 L1780.7,1162.8 L1784.8,1165.3 L1788.9,1165.6 L1792.9,1165.9 L1797.0,1164.8 L1801.0,1165.9 L1805.0,1165.5 L1809.1,1165.4 L1813.1,1165.6 L1817.1,1164.9 L1821.2,1164.9 L1825.2,1167.1 L1829.3,1166.3 L1833.3,1166.9 L1837.3,1167.8 L1841.4,1165.5 L1845.4,1166.6 L1849.4,1167.8 L1853.4,1168.2 L1857.4,1167.7 L1861.4,1169.2 L1865.4,1168.6 L1869.3,1167.4 L1873.3,1167.8 L1877.3,1169.4 L1881.3,1169.3 L1885.2,1167.8 L1889.2,1171.3 L1893.2,1171.2 L1897.1,1172.4 L1901.1,1171.4 L1905.1,1172.0 L1909.1,1171.8 L1913.0,1175.6 L1917.0,1173.7 L1921.0,1175.8 L1925.0,1174.3" stroke="#8a8a8a" stroke-width="6"/>
<path d="M753,505 L761.5,489.5 L770,505 Z" fill="#8a8a8a" stroke="#8a8a8a" stroke-width="2"/>
<path d="M249,1034.5 L251,1034.2 L253,1034.0 L255,1033.8 L257,1033.6 L259,1033.3 L261,1033.1 L263,1032.9 L265,1032.7 L267,1032.4 L269,1032.2 L271,1031.9 L273,1031.7 L275,1031.5 L277,1031.2 L279,1030.9 L281,1030.7 L283,1030.4 L285,1030.1 L287,1029.9 L289,1029.6 L291,1029.3 L293,1029.0 L295,1028.7 L297,1028.4 L299,1028.0 L301,1027.7 L303,1027.3 L305,1027.0 L307,1026.6 L309,1026.2 L311,1025.9 L313,1025.5 L315,1025.0 L317,1024.6 L319,1024.2 L321,1023.7 L323,1023.3 L325,1022.8 L327,1022.3 L329,1021.8 L331,1021.3 L333,1020.7 L335,1020.2 L337,1019.6 L339,1019.1 L341,1018.5 L343,1017.8 L345,1017.2 L347,1016.6 L349,1015.9 L351,1015.2 L353,1014.5 L355,1013.7 L357,1012.9 L359,1012.1 L361,1011.3 L363,1010.5 L365,1009.6 L367,1008.7 L369,1007.7 L371,1006.8 L373,1005.8 L375,1004.7 L377,1003.7 L379,1002.6 L381,1001.6 L383,1000.5 L385,999.4 L387,998.2 L389,997.1 L391,995.9 L393,994.7 L395,993.4 L397,992.1 L399,990.8 L401,989.5 L403,988.1 L405,986.7 L407,985.4 L409,984.0 L411,982.6 L413,981.2 L415,979.8 L417,978.4 L419,976.9 L421,975.5 L423,974.0 L425,972.5 L427,971.0 L429,969.5 L431,968.0 L433,966.4 L435,964.9 L437,963.3 L439,961.8 L441,960.2 L443,958.7 L445,957.2 L447,955.7 L449,954.2 L451,952.7 L453,951.1 L455,949.6 L457,948.0 L459,946.4 L461,944.8 L463,943.1 L465,941.4 L467,939.6 L469,937.8 L471,936.0 L473,934.1 L475,932.2 L477,930.2 L479,928.1 L481,925.9 L483,923.7 L485,921.5 L487,919.1 L489,916.7 L491,914.2 L493,911.7 L495,909.1 L497,906.4 L499,903.7 L501,901.0 L503,898.1 L505,895.3 L507,892.4 L509,889.4 L511,886.4 L513,883.4 L515,880.3 L517,877.2 L519,874.0 L521,870.9 L523,867.6 L525,864.4 L527,861.1 L529,857.8 L531,854.5 L533,851.1 L535,847.8 L537,844.4 L539,840.9 L541,837.5 L543,834.0 L545,830.5 L547,827.0 L549,823.4 L551,819.8 L553,816.2 L555,812.6 L557,808.9 L559,805.2 L561,801.4 L563,797.7 L565,793.9 L567,790.0 L569,786.2 L571,782.3 L573,778.3 L575,774.4 L577,770.4 L579,766.4 L581,762.3 L583,758.3 L585,754.2 L587,750.1 L589,745.9 L591,741.8 L593,737.6 L595,733.4 L597,729.3 L599,725.1 L601,720.9 L603,716.7 L605,712.5 L607,708.3 L609,704.1 L611,699.9 L613,695.8 L615,691.7 L617,687.5 L619,683.4 L621,679.3 L623,675.2 L625,671.1 L627,667.1 L629,663.0 L631,659.0 L633,655.0 L635,651.0 L637,647.0 L639,643.0 L641,639.1 L643,635.2 L645,631.3 L647,627.5 L649,623.7 L651,619.9 L653,616.2 L655,612.5 L657,608.9 L659,605.3 L661,601.8 L663,598.4 L665,595.0 L667,591.6 L669,588.3 L671,585.1 L673,581.9 L675,578.8 L677,575.8 L679,572.8 L681,569.8 L683,566.9 L685,564.1 L687,561.3 L689,558.5 L691,555.8 L693,553.1 L695,550.5 L697,547.9 L699,545.4 L701,542.9 L703,540.5 L705,538.2 L707,535.9 L709,533.7 L711,531.6 L713,529.5 L715,527.5 L717,525.6 L719,523.8 L721,522.0 L723,520.4 L725,518.8 L727,517.3 L729,515.9 L731,514.7 L733,513.5 L735,512.4 L737,511.4 L739,510.5 L741,509.8 L743,509.1 L745,508.5 L747,508.0 L749,507.7 L751,507.4 L753,507.2 L755,507.1 L757,507.1 L759,507.2 L761,507.3 L763,507.6 L765,507.9 L767,508.3 L769,508.8 L771,509.3 L773,509.9 L775,510.6 L777,511.4 L779,512.2 L781,513.2 L783,514.1 L785,515.2 L787,516.3 L789,517.5 L791,518.7 L793,520.0 L795,521.4 L797,522.8 L799,524.2 L801,525.7 L803,527.3 L805,528.9 L807,530.5 L809,532.2 L811,533.9 L813,535.6 L815,537.3 L817,539.1 L819,540.8 L821,542.6 L823,544.4 L825,546.3 L827,548.1 L829,549.9 L831,551.8 L833,553.7 L835,555.6 L837,557.5 L839,559.4 L841,561.3 L843,563.2 L845,565.2 L847,567.1 L849,569.0 L851,570.9 L853,572.9 L855,574.8 L857,576.7 L859,578.5 L861,580.4 L863,582.2 L865,584.1 L867,585.9 L869,587.7 L871,589.4 L873,591.2 L875,592.9 L877,594.6 L879,596.3 L881,598.0 L883,599.6 L885,601.2 L887,602.7 L889,604.2 L891,605.7 L893,607.1 L895,608.5 L897,609.9 L899,611.2 L901,612.5 L903,613.7 L905,614.8 L907,615.9 L909,617.0 L911,618.0 L913,619.0 L915,619.9 L917,620.8 L919,621.6 L921,622.3 L923,623.0 L925,623.7 L927,624.2 L929,624.7 L931,625.1 L933,625.5 L935,625.8 L937,626.0 L939,626.1 L941,626.2 L943,626.2 L945,626.1 L947,626.0 L949,625.7 L951,625.4 L953,625.0 L955,624.5 L957,624.0 L959,623.3 L961,622.6 L963,621.8 L965,620.9 L967,620.0 L969,618.9 L971,617.8 L973,616.5 L975,615.2 L977,613.8 L979,612.3 L981,610.7 L983,609.0 L985,607.2 L987,605.3 L989,603.4 L991,601.3 L993,599.2 L995,596.9 L997,594.6 L999,592.2 L1001,589.7 L1003,587.2 L1005,584.5 L1007,581.8 L1009,579.0 L1011,576.1 L1013,573.2 L1015,570.2 L1017,567.2 L1019,564.1 L1021,560.9 L1023,557.7 L1025,554.5 L1027,551.2 L1029,547.9 L1031,544.5 L1033,541.1 L1035,537.7 L1037,534.2 L1039,530.7 L1041,527.2 L1043,523.6 L1045,520.1 L1047,516.5 L1049,512.9 L1051,509.2 L1053,505.6 L1055,502.0 L1057,498.3 L1059,494.6 L1061,491.0 L1063,487.3 L1065,483.7 L1067,480.0 L1069,476.4 L1071,472.7 L1073,469.1 L1075,465.5 L1077,461.9 L1079,458.4 L1081,454.8 L1083,451.3 L1085,447.7 L1087,444.2 L1089,440.8 L1091,437.3 L1093,433.9 L1095,430.4 L1097,427.1 L1099,423.7 L1101,420.4 L1103,417.1 L1105,413.9 L1107,410.7 L1109,407.5 L1111,404.4 L1113,401.3 L1115,398.3 L1117,395.4 L1119,392.6 L1121,389.8 L1123,387.1 L1125,384.5 L1127,381.9 L1129,379.5 L1131,377.2 L1133,375.0 L1135,372.9 L1137,370.9 L1139,369.0 L1141,367.3 L1143,365.6 L1145,364.1 L1147,362.7 L1149,361.5 L1151,360.4 L1153,359.3 L1155,358.5 L1157,357.7 L1159,357.0 L1161,356.5 L1163,356.0 L1165,355.7 L1167,355.4 L1169,355.3 L1171,355.2 L1173,355.3 L1175,355.4 L1177,355.6 L1179,355.9 L1181,356.3 L1183,356.8 L1185,357.3 L1187,358.0 L1189,358.7 L1191,359.6 L1193,360.5 L1195,361.5 L1197,362.7 L1199,363.9 L1201,365.2 L1203,366.7 L1205,368.3 L1207,369.9 L1209,371.7 L1211,373.6 L1213,375.7 L1215,377.8 L1217,380.1 L1219,382.4 L1221,384.9 L1223,387.5 L1225,390.2 L1227,393.1 L1229,396.0 L1231,399.1 L1233,402.3 L1235,405.6 L1237,409.0 L1239,412.5 L1241,416.1 L1243,419.8 L1245,423.6 L1247,427.4 L1249,431.4 L1251,435.4 L1253,439.5 L1255,443.7 L1257,447.9 L1259,452.3 L1261,456.7 L1263,461.3 L1265,465.9 L1267,470.7 L1269,475.5 L1271,480.5 L1273,485.6 L1275,490.7 L1277,496.0 L1279,501.3 L1281,506.6 L1283,512.1 L1285,517.6 L1287,523.2 L1289,528.8 L1291,534.5 L1293,540.2 L1295,545.9 L1297,551.6 L1299,557.4 L1301,563.1 L1303,568.8 L1305,574.5 L1307,580.1 L1309,585.7 L1311,591.2 L1313,596.8 L1315,602.3 L1317,607.7 L1319,613.2 L1321,618.6 L1323,624.0 L1325,629.4 L1327,634.9 L1329,640.3 L1331,645.8 L1333,651.2 L1335,656.8 L1337,662.3 L1339,667.9 L1341,673.4 L1343,679.0 L1345,684.5 L1347,690.0 L1349,695.5 L1351,700.9 L1353,706.3 L1355,711.6 L1357,716.8 L1359,722.0 L1361,727.1 L1363,732.1 L1365,737.1 L1367,742.0 L1369,746.8 L1371,751.6 L1373,756.3 L1375,760.9 L1377,765.5 L1379,770.0 L1381,774.4 L1383,778.8 L1385,783.1 L1387,787.3 L1389,791.5 L1391,795.6 L1393,799.6 L1395,803.6 L1397,807.5 L1399,811.4 L1401,815.1 L1403,818.9 L1405,822.5 L1407,826.1 L1409,829.6 L1411,833.1 L1413,836.5 L1415,839.8 L1417,843.1 L1419,846.3 L1421,849.5 L1423,852.6 L1425,855.7 L1427,858.8 L1429,861.8 L1431,864.8 L1433,867.8 L1435,870.8 L1437,873.8 L1439,876.7 L1441,879.7 L1443,882.6 L1445,885.6 L1447,888.5 L1449,891.5 L1451,894.4 L1453,897.3 L1455,900.3 L1457,903.2 L1459,906.1 L1461,909.0 L1463,911.9 L1465,914.7 L1467,917.6 L1469,920.4 L1471,923.3 L1473,926.1 L1475,928.9 L1477,931.6 L1479,934.4 L1481,937.1 L1483,939.9 L1485,942.6 L1487,945.2 L1489,947.9 L1491,950.6 L1493,953.2 L1495,955.8 L1497,958.4 L1499,961.0 L1501,963.5 L1503,966.1 L1505,968.6 L1507,971.1 L1509,973.6 L1511,976.0 L1513,978.5 L1515,980.9 L1517,983.3 L1519,985.7 L1521,988.1 L1523,990.4 L1525,992.8 L1527,995.1 L1529,997.4 L1531,999.7 L1533,1002.0 L1535,1004.3 L1537,1006.6 L1539,1008.8 L1541,1011.1 L1543,1013.3 L1545,1015.5 L1547,1017.7 L1549,1019.9 L1551,1022.0 L1553,1024.1 L1555,1026.1 L1557,1028.2 L1559,1030.1 L1561,1032.1 L1563,1034.0 L1565,1035.8 L1567,1037.7 L1569,1039.5 L1571,1041.3 L1573,1043.0 L1575,1044.8 L1577,1046.5 L1579,1048.2 L1581,1049.9 L1583,1051.6 L1585,1053.3 L1587,1055.0 L1589,1056.7 L1591,1058.3 L1593,1060.0 L1595,1061.7 L1597,1063.3 L1599,1065.0 L1601,1066.7 L1603,1068.3 L1605,1070.0 L1607,1071.6 L1609,1073.3 L1611,1075.0 L1613,1076.6 L1615,1078.3 L1617,1079.9 L1619,1081.5 L1621,1083.2 L1623,1084.8 L1625,1086.4 L1627,1088.0 L1629,1089.7 L1631,1091.3 L1633,1092.9 L1635,1094.5 L1637,1096.1 L1639,1097.6 L1641,1099.2 L1643,1100.8 L1645,1102.3 L1647,1103.8 L1649,1105.3 L1651,1106.8 L1653,1108.3 L1655,1109.7 L1657,1111.2 L1659,1112.6 L1661,1114.0 L1663,1115.4 L1665,1116.7 L1667,1118.0 L1669,1119.3 L1671,1120.6 L1673,1121.9 L1675,1123.1 L1677,1124.3 L1679,1125.5 L1681,1126.7 L1683,1127.9 L1685,1129.0 L1687,1130.1 L1689,1131.2 L1691,1132.2 L1693,1133.2 L1695,1134.3 L1697,1135.2 L1699,1136.2 L1701,1137.1 L1703,1138.0 L1705,1138.9 L1707,1139.7 L1709,1140.6 L1711,1141.4 L1713,1142.2 L1715,1143.0 L1717,1143.7 L1719,1144.5 L1721,1145.2 L1723,1145.9 L1725,1146.6 L1727,1147.3 L1729,1148.0 L1731,1148.7 L1733,1149.4 L1735,1150.1 L1737,1150.7 L1739,1151.4 L1741,1152.0 L1743,1152.7 L1745,1153.3 L1747,1153.9 L1749,1154.6 L1751,1155.1 L1753,1155.7 L1755,1156.3 L1757,1156.9 L1759,1157.4 L1761,1157.9 L1763,1158.5 L1765,1159.0 L1767,1159.4 L1769,1159.9 L1771,1160.4 L1773,1160.8 L1775,1161.2 L1777,1161.6 L1779,1162.0 L1781,1162.4 L1783,1162.8 L1785,1163.2 L1787,1163.5 L1789,1163.8 L1791,1164.1 L1793,1164.4 L1795,1164.7 L1797,1165.0 L1799,1165.3 L1801,1165.5 L1803,1165.8 L1805,1166.0 L1807,1166.2 L1809,1166.5 L1811,1166.7 L1813,1166.9 L1815,1167.1 L1817,1167.3 L1819,1167.6 L1821,1167.8 L1823,1168.0 L1825,1168.2 L1827,1168.4 L1829,1168.7 L1831,1168.9 L1833,1169.1 L1835,1169.4 L1837,1169.6 L1839,1169.9 L1841,1170.1 L1843,1170.3 L1845,1170.6 L1847,1170.8 L1849,1171.0 L1851,1171.3 L1853,1171.5 L1855,1171.7 L1857,1171.9 L1859,1172.1 L1861,1172.3 L1863,1172.5 L1865,1172.6 L1867,1172.8 L1869,1173.0 L1871,1173.1 L1873,1173.2 L1875,1173.4 L1877,1173.5 L1879,1173.6 L1881,1173.8 L1883,1173.9 L1885,1174.0 L1887,1174.1 L1889,1174.2 L1891,1174.3 L1893,1174.4 L1895,1174.4 L1897,1174.5 L1899,1174.6 L1901,1174.7 L1903,1174.7 L1905,1174.8 L1907,1174.8 L1909,1174.9 L1911,1174.9 L1913,1175.0 L1915,1175.0 L1917,1175.1 L1919,1175.1 L1921,1175.2 L1923,1175.2 L1925,1175.3 L1927,1175.3 L1928,1175.3" stroke="#d41818" stroke-width="8"/>
</g>
<line x1="738.5" y1="299" x2="738.5" y2="516" stroke="#1e781e" stroke-width="5.6" stroke-dasharray="15.3 12.9"/><path d="M728.0,519.0 L733.5,519.0 L734.5,526.0 L738.5,527.5 L742.5,526.0 L743.5,519.0 L749.0,519.0 L747.0,530.0 L744.5,540.0 L742.0,550.0 L740.0,557.0 L737.0,557.0 L735.0,550.0 L732.5,540.0 L730.0,530.0 Z" fill="#168a16"/>
<line x1="1185.7" y1="220.5" x2="1185.7" y2="435" stroke="#b232b2" stroke-width="5.6" stroke-dasharray="15.3 12.9"/><path d="M1175.2,438.0 L1180.7,438.0 L1181.7,445.0 L1185.7,446.5 L1189.7,445.0 L1190.7,438.0 L1196.2,438.0 L1194.2,449.0 L1191.7,459.0 L1189.2,469.0 L1187.2,476.0 L1184.2,476.0 L1182.2,469.0 L1179.7,459.0 L1177.2,449.0 Z" fill="#e81ee8"/>
<line x1="962" y1="725.5" x2="962" y2="863" stroke="#14149c" stroke-width="5.6" stroke-dasharray="15.3 12.9"/><path d="M951.5,866.0 L957.0,866.0 L958.0,873.0 L962.0,874.5 L966.0,873.0 L967.0,866.0 L972.5,866.0 L970.5,877.0 L968.0,887.0 L965.5,897.0 L963.5,904.0 L960.5,904.0 L958.5,897.0 L956.0,887.0 L953.5,877.0 Z" fill="#1010e0"/>
<line x1="1428.5" y1="722.5" x2="1428.5" y2="917.5" stroke="#561c1c" stroke-width="5.6" stroke-dasharray="15.3 12.9"/><path d="M1418.0,920.5 L1423.5,920.5 L1424.5,927.5 L1428.5,929.0 L1432.5,927.5 L1433.5,920.5 L1439.0,920.5 L1437.0,931.5 L1434.5,941.5 L1432.0,951.5 L1430.0,958.5 L1427.0,958.5 L1425.0,951.5 L1422.5,941.5 L1420.0,931.5 Z" fill="#880c0c"/>
<g fill="#000">
<text transform="translate(612.3,290.0) scale(0.877,1)" font-size="93">W</text><text x="694.8" y="241.8" font-size="56">6+</text><text x="752.3" y="290.3" font-size="93">4f</text><text x="831.3" y="327.5" font-size="56">5/2</text>
<text transform="translate(1063.1,186.5) scale(0.963,1)" font-size="93">W</text><text x="1151.2" y="135.6" font-size="56">6+</text><text x="1208.3" y="187.0" font-size="93">4f</text><text x="1285.4" y="222.0" font-size="56">7/2</text>
<text transform="translate(847.0,724.8) scale(0.883,1)" font-size="93">W</text><text x="929.4" y="675.6" font-size="56">5+</text><text x="986.7" y="724.7" font-size="93">4f</text><text x="1065.6" y="762.0" font-size="56">5/2</text>
<text transform="translate(1340.5,704.8) scale(0.945,1)" font-size="93">W</text><text x="1426.0" y="653.4" font-size="56">5+</text><text x="1484.0" y="705.0" font-size="93">4f</text><text x="1561.2" y="739.3" font-size="56">7/2</text>
</g>
<g fill="#000">
<rect x="241" y="24" width="1693" height="5.5"/>
<rect x="241" y="1275.5" width="1693" height="5.5"/>
<rect x="241" y="24" width="8" height="1257"/>
<rect x="1928" y="24" width="6" height="1257"/>
<rect x="1934" y="28" width="2.5" height="1250" fill="#aaa"/>
<rect x="1718.0" y="1263" width="6.5" height="15"/><rect x="1507.6" y="1251" width="6" height="27"/><rect x="1296.2" y="1263" width="6.5" height="15"/><rect x="1085.8" y="1251" width="6" height="27"/><rect x="874.4" y="1263" width="6.5" height="15"/><rect x="664.0" y="1251" width="6" height="27"/><rect x="452.6" y="1263" width="6.5" height="15"/>
</g>
<g fill="#000">
<text x="243.2" y="1364.8" font-size="77" text-anchor="middle">40</text><text x="665.0" y="1364.8" font-size="77" text-anchor="middle">38</text><text x="1086.8" y="1364.8" font-size="77" text-anchor="middle">36</text><text x="1508.6" y="1364.8" font-size="77" text-anchor="middle">34</text><text x="1930.4" y="1364.8" font-size="77" text-anchor="middle">32</text>
<text x="662.5" y="1515.4" font-size="100.9">Binding Energy (eV)</text>
<text transform="translate(79.4,984) rotate(-90)" font-size="101">Intensity (a.u.)</text>
</g>
</svg>
</body></html>
